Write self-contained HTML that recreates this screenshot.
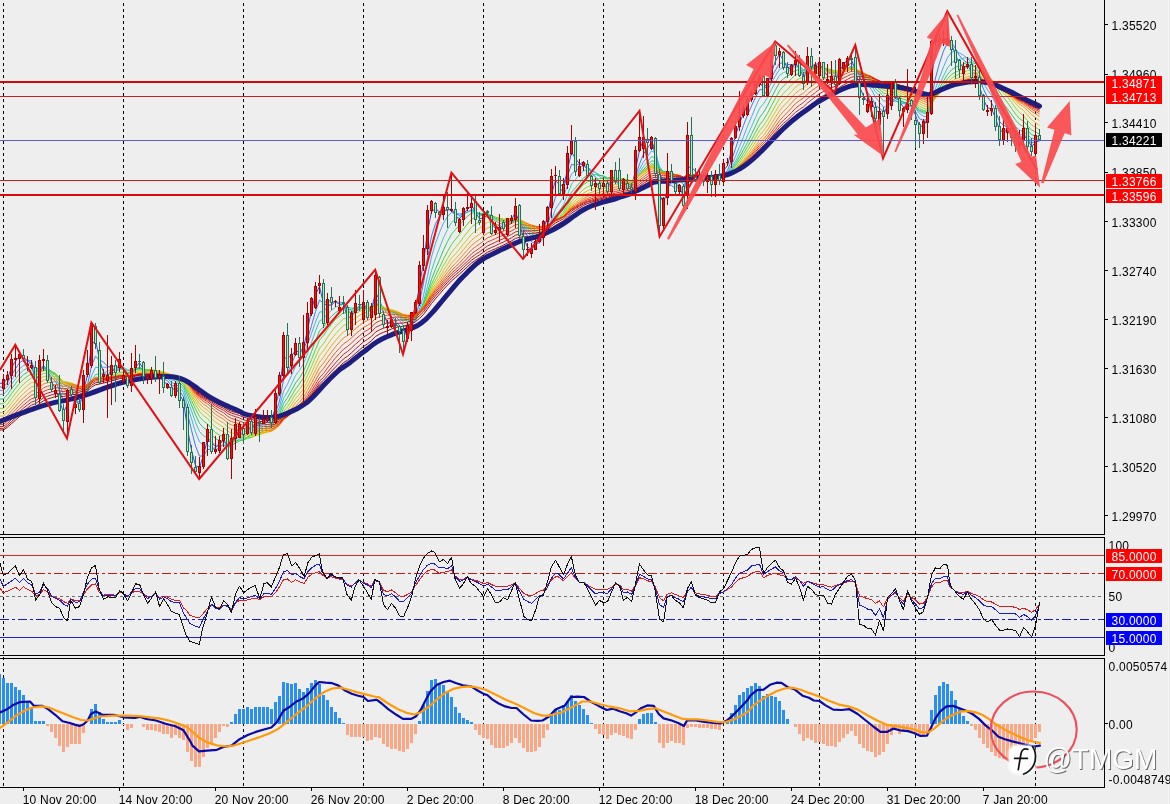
<!DOCTYPE html>
<html><head><meta charset="utf-8"><title>chart</title>
<style>html,body{margin:0;padding:0;background:#eeeeee;}body{width:1170px;height:804px;overflow:hidden;font-family:"Liberation Sans",sans-serif;}svg{display:block;will-change:transform;opacity:0.999;}text{font-family:"Liberation Sans",sans-serif;font-size:12px;letter-spacing:0.25px;}</style>
</head><body>
<svg width="1170" height="804" viewBox="0 0 1170 804">
<rect x="0" y="0" width="1170" height="804" fill="#eeeeee"/>
<defs><clipPath id="cm"><rect x="0" y="0" width="1104" height="534"/></clipPath><clipPath id="cr"><rect x="0" y="538" width="1104" height="117"/></clipPath><clipPath id="cd"><rect x="0" y="659" width="1104" height="128"/></clipPath></defs>
<path d="M3.5 3V534M3.5 537V655M3.5 657V787M123.5 3V534M123.5 537V655M123.5 657V787M243.5 3V534M243.5 537V655M243.5 657V787M363.5 3V534M363.5 537V655M363.5 657V787M483.5 3V534M483.5 537V655M483.5 657V787M603.5 3V534M603.5 537V655M603.5 657V787M723.5 3V534M723.5 537V655M723.5 657V787M819.5 3V534M819.5 537V655M819.5 657V787M915.5 3V534M915.5 537V655M915.5 657V787M1035.5 3V534M1035.5 537V655M1035.5 657V787" stroke="#000" stroke-width="1" stroke-dasharray="3 3" fill="none" shape-rendering="crispEdges"/>
<g clip-path="url(#cm)" fill="none" stroke-width="0.95" stroke-linejoin="round">
<polyline points="0,383.3 3.5,383.3 7.5,378.3 11.5,367.7 15.5,361.2 19.5,356.2 23.5,357.2 27.5,360.7 31.5,363.7 35.5,381.3 39.5,373.5 43.5,365.8 47.5,370.2 51.5,381.8 55.5,388.5 59.5,400.5 63.5,412.5 67.5,403.8 71.5,397.7 75.5,398.7 79.5,405.5 83.5,391.5 87.5,374.8 91.5,345 95.5,340.2 99.5,360 103.5,372 107.5,376 111.5,369.8 115.5,370.7 119.5,364.7 123.5,369.3 127.5,377.8 131.5,375.2 135.5,367.5 139.5,362.7 143.5,369.3 147.5,374 151.5,373.2 155.5,375 159.5,375.2 163.5,382 167.5,383.8 171.5,390.7 175.5,387.5 179.5,394.2 183.5,401.5 187.5,428.8 191.5,450.2 195.5,465.7 199.5,467.5 203.5,455 207.5,439.5 211.5,442.7 215.5,446.7 219.5,445 223.5,438.5 227.5,447.5 231.5,444.3 235.5,434.5 239.5,426.3 243.5,429.5 247.5,426.7 251.5,429.7 255.5,422.7 259.5,422.8 263.5,420.2 267.5,419.3 271.5,420.7 275.5,407.2 279.5,389 283.5,358 287.5,358.2 291.5,355.5 295.5,350.8 299.5,352.3 303.5,347.5 307.5,330.2 311.5,310.3 315.5,294.5 319.5,286.5 323.5,304 327.5,304.7 331.5,305.2 335.5,301.3 339.5,304.3 343.5,304.5 347.5,317.5 351.5,317.2 355.5,310.8 359.5,305.7 363.5,303.2 367.5,310.5 371.5,309.3 375.5,292.5 379.5,299.7 383.5,313 387.5,323.7 391.5,322.3 395.5,323.7 399.5,327.8 403.5,336 407.5,331.8 411.5,321.3 415.5,309.2 419.5,285.2 423.5,262.7 427.5,231.8 431.5,211.8 435.5,208.5 439.5,212 443.5,210.7 447.5,209.8 451.5,209 455.5,216.2 459.5,218.7 463.5,214.2 467.5,209.3 471.5,205.2 475.5,212.2 479.5,218.7 483.5,218 487.5,215 491.5,223.7 495.5,228.5 499.5,229.2 503.5,228.5 507.5,223.2 511.5,219.8 515.5,212 519.5,223 523.5,238 527.5,247.2 531.5,249.2 535.5,245 539.5,240.3 543.5,229.7 547.5,216.7 551.5,193.8 555.5,180.7 559.5,184.7 563.5,185.8 567.5,170.2 571.5,152.2 575.5,158.5 579.5,163.8 583.5,165 587.5,169.7 591.5,178.7 595.5,182.8 599.5,186.5 603.5,185 607.5,188.5 611.5,179.5 615.5,179.7 619.5,183.5 623.5,182.8 627.5,185.7 631.5,187.8 635.5,169.8 639.5,150.2 643.5,139.2 647.5,140 651.5,139 655.5,156.5 659.5,193.8 663.5,203.3 667.5,189.2 671.5,180.5 675.5,184.8 679.5,186.7 683.5,196.7 687.5,167 691.5,167.3 695.5,171.2 699.5,177.8 703.5,180 707.5,178.2 711.5,181.5 715.5,178 719.5,179.3 723.5,170.8 727.5,165.5 731.5,150.2 735.5,136 739.5,123 743.5,113.7 747.5,104.8 751.5,97.5 755.5,89.5 759.5,82 763.5,87.7 767.5,83.8 771.5,72 775.5,61 779.5,54.2 783.5,60.3 787.5,68.2 791.5,68.5 795.5,64 799.5,68.8 803.5,77.3 807.5,68.7 811.5,66.2 815.5,64.2 819.5,63.8 823.5,70.5 827.5,75.8 831.5,77.3 835.5,81 839.5,70.5 843.5,64.8 847.5,59.5 851.5,59.7 855.5,70.7 859.5,86.3 863.5,96.3 867.5,101.7 871.5,101.8 875.5,110.5 879.5,112 883.5,115.3 887.5,105 891.5,92.2 895.5,92.2 899.5,101.8 903.5,107.3 907.5,106.5 911.5,105.7 915.5,115.2 919.5,126.3 923.5,126 927.5,118.7 931.5,78 935.5,51.3 939.5,41 943.5,40.2 947.5,39.2 951.5,44.2 955.5,54.5 959.5,64.3 963.5,66.8 967.5,65.7 971.5,71.3 975.5,74.7 979.5,86.3 983.5,99.7 987.5,107.7 991.5,109 995.5,117.8 999.5,130.3 1003.5,131.8 1007.5,130 1011.5,133 1015.5,140.3 1019.5,141.7 1023.5,135 1027.5,139.5 1031.5,146.3 1035.5,142.7 1039.5,140.3" stroke="#2546d8"/>
<polyline points="0,387 3.5,387 7.5,382.8 11.5,375 15.5,368.7 19.5,362.8 23.5,360.1 27.5,360.1 31.5,361.1 35.5,372 39.5,370.2 43.5,368 47.5,371.9 51.5,377.2 55.5,381.4 59.5,390.3 63.5,401.5 67.5,401 71.5,400.3 75.5,401.6 79.5,404 83.5,395.3 87.5,385 91.5,366 95.5,356.2 99.5,360 103.5,362.1 107.5,366.3 111.5,367.7 115.5,371.2 119.5,368.3 123.5,369.3 127.5,373.9 131.5,372.7 135.5,369.8 139.5,367.4 143.5,369.9 147.5,371.1 151.5,370.7 155.5,373.2 159.5,374.5 163.5,378.8 167.5,380.7 171.5,385.7 175.5,386 179.5,390.9 183.5,396.6 187.5,413.4 191.5,430.2 195.5,445.9 199.5,456.2 203.5,455.8 207.5,449.6 211.5,449 215.5,447.6 219.5,444.3 223.5,440.8 227.5,445.9 231.5,444.2 235.5,438.1 239.5,433.4 243.5,433 247.5,429 251.5,428.9 255.5,425 259.5,424.6 263.5,422.7 267.5,420.7 271.5,421 275.5,412.7 279.5,401.1 283.5,380 287.5,372.7 291.5,363.7 295.5,354.7 299.5,353.7 303.5,349.9 307.5,339.3 311.5,325.5 315.5,311.6 319.5,300 323.5,303.1 327.5,300.6 331.5,301.3 335.5,302 339.5,304.1 343.5,304.5 347.5,311.2 351.5,312.9 355.5,311 359.5,309.6 363.5,307.2 367.5,309.7 371.5,308 375.5,298.6 379.5,302.2 383.5,308.4 387.5,313.9 391.5,316.3 395.5,320.6 399.5,325.7 403.5,331 407.5,330 411.5,325.3 415.5,318.5 419.5,301.9 423.5,283.3 427.5,257.9 431.5,236.1 435.5,223.8 439.5,216.7 443.5,211.4 447.5,209.8 451.5,209.7 455.5,213.7 459.5,215.4 463.5,213.8 467.5,212.1 471.5,209.4 475.5,211.8 479.5,214.6 483.5,214.8 487.5,214.9 491.5,220.8 495.5,224.3 499.5,225.6 503.5,227.2 507.5,225.3 511.5,223.3 515.5,217.6 519.5,221.8 523.5,229.7 527.5,236.2 531.5,241.8 535.5,243.6 539.5,243.1 543.5,236.7 547.5,226.9 551.5,210.3 555.5,197 559.5,192.5 563.5,187.5 567.5,176.1 571.5,164.5 575.5,165 579.5,163.9 583.5,162 587.5,165.8 591.5,172.7 595.5,177.2 599.5,181.5 603.5,183.2 607.5,186.7 611.5,182.4 615.5,181.9 619.5,183.6 623.5,182.1 627.5,184 631.5,185.8 635.5,176.3 639.5,164.1 643.5,154 647.5,148.1 651.5,142.2 655.5,149.3 659.5,172.1 663.5,183.2 667.5,183.8 671.5,185.5 675.5,188.6 679.5,187.1 683.5,191 687.5,175.7 691.5,175 695.5,175.2 699.5,174.7 703.5,176.2 707.5,176.2 711.5,180.2 715.5,178.7 719.5,179.3 723.5,174.7 727.5,170.4 731.5,160.3 735.5,148.5 739.5,136.7 743.5,125.4 747.5,115 751.5,105.9 755.5,97.5 759.5,89.7 763.5,89.6 767.5,85.4 771.5,77.4 775.5,70.2 779.5,63.3 783.5,62.8 787.5,64.5 791.5,64.6 795.5,64 799.5,67.9 803.5,73.1 807.5,68.8 811.5,68.1 815.5,67.3 819.5,65.6 823.5,68.3 827.5,71.3 831.5,73.6 835.5,77.6 839.5,73.2 843.5,70 847.5,65.7 851.5,62.9 855.5,67.3 859.5,76 863.5,84.6 867.5,92.4 871.5,97.3 875.5,105.4 879.5,108.3 883.5,111.6 887.5,107.7 891.5,100.3 895.5,98.6 899.5,100.7 903.5,102.3 907.5,102.9 911.5,104.7 915.5,111.4 919.5,118.7 923.5,120.5 927.5,119.2 931.5,97.5 935.5,78 939.5,63 943.5,50.9 947.5,43 951.5,42.5 955.5,48.6 959.5,55.7 963.5,60.1 967.5,62.9 971.5,68.5 975.5,71.6 979.5,79.1 983.5,89.1 987.5,97.2 991.5,102.7 995.5,111.4 999.5,121.6 1003.5,125.2 1007.5,127.4 1011.5,131.5 1015.5,136.6 1019.5,138.2 1023.5,135.7 1027.5,139.2 1031.5,143.3 1035.5,141.3 1039.5,141" stroke="#2f74e6"/>
<polyline points="0,390.4 3.5,390.4 7.5,386.4 11.5,379.9 15.5,374.4 19.5,368.9 23.5,365.4 27.5,363.7 31.5,362.9 35.5,369.2 39.5,367.6 43.5,366.2 47.5,369.6 51.5,374.3 55.5,378.3 59.5,385.7 63.5,394 67.5,394.8 71.5,396 75.5,399.1 79.5,402.4 83.5,397.6 87.5,390.5 91.5,376 95.5,367.2 99.5,367.7 103.5,367.2 107.5,367.3 111.5,365.8 115.5,366.8 119.5,365.8 123.5,368.4 127.5,372.9 131.5,372.4 135.5,370 139.5,368.3 143.5,369.8 147.5,371.1 151.5,371 155.5,372.5 159.5,373 163.5,376 167.5,378.3 171.5,382.6 175.5,383.5 179.5,387.5 183.5,392.4 187.5,405.4 191.5,418.8 195.5,432.1 199.5,442 203.5,445.4 207.5,445 211.5,448.3 215.5,449.6 219.5,448 223.5,444.4 227.5,446.3 231.5,444 235.5,439.8 239.5,436.4 243.5,435.6 247.5,432.2 251.5,431.5 255.5,427.9 259.5,426.3 263.5,424 267.5,422.4 271.5,422.2 275.5,416.1 279.5,407 283.5,391.3 287.5,384.1 291.5,375.5 295.5,366.1 299.5,361.6 303.5,355.1 307.5,344.6 311.5,333.5 315.5,322.1 319.5,312.1 323.5,311.5 327.5,306.8 331.5,304.2 335.5,302 339.5,302.3 343.5,302.8 347.5,308.7 351.5,310.5 355.5,309.7 359.5,308.8 363.5,307.8 367.5,309.8 371.5,309.2 375.5,302.2 379.5,303.8 383.5,307.3 387.5,311.2 391.5,313.3 395.5,316.5 399.5,320.5 403.5,325.7 407.5,327.1 411.5,325.4 415.5,320.9 419.5,309.2 423.5,295.5 427.5,275.9 431.5,257 435.5,243.2 439.5,232.5 443.5,223 447.5,216.7 451.5,212.4 455.5,213.1 459.5,213.9 463.5,213.1 467.5,212.2 471.5,210.3 475.5,212 479.5,214.3 483.5,214.4 487.5,214.2 491.5,218.1 495.5,221 499.5,223 503.5,225 507.5,224.3 511.5,223.3 515.5,219.9 519.5,222.9 523.5,228.2 527.5,232.5 531.5,236.4 535.5,238.4 539.5,239.2 543.5,236.6 547.5,231.2 551.5,219.8 555.5,208.9 559.5,203.2 563.5,196.7 567.5,185.4 571.5,173.9 575.5,170.8 579.5,167.9 583.5,165.4 587.5,166.8 591.5,170.2 595.5,172.7 599.5,176.6 603.5,179.3 607.5,183 611.5,181.3 615.5,182 619.5,183.7 623.5,182.8 627.5,183.9 631.5,185.1 635.5,178.2 639.5,169.5 643.5,161.8 647.5,156.6 651.5,150.7 655.5,153.3 659.5,166.6 663.5,173.2 667.5,174.2 671.5,177.7 675.5,182.7 679.5,185 683.5,190.5 687.5,180.4 691.5,178.6 695.5,177.4 699.5,176.8 703.5,177.5 707.5,176.9 711.5,178.1 715.5,177.3 719.5,178.2 723.5,176 727.5,172.9 731.5,165.4 735.5,156.4 739.5,146.6 743.5,136.6 747.5,126.4 751.5,116.8 755.5,107.2 759.5,98.4 763.5,95.4 767.5,90.1 771.5,82.6 775.5,75.8 779.5,69.3 783.5,67.5 787.5,67.6 791.5,66.3 795.5,64.4 799.5,66.1 803.5,69.8 807.5,67.8 811.5,68.1 815.5,67.7 819.5,66.5 823.5,68.5 827.5,70.7 831.5,72 835.5,74.7 839.5,72 843.5,70.5 847.5,68 851.5,66.1 855.5,68.8 859.5,74.2 863.5,79.5 867.5,85.2 871.5,89.7 875.5,97.4 879.5,102.2 883.5,107.1 887.5,106.2 891.5,102 895.5,101 899.5,102.6 903.5,103.4 907.5,103.3 911.5,103.5 915.5,107.8 919.5,113.5 923.5,116.3 927.5,116.8 931.5,102.3 935.5,88.5 939.5,77.4 943.5,66.9 947.5,57.6 951.5,52.2 955.5,51.2 959.5,53 963.5,55.3 967.5,58.1 971.5,63.2 975.5,67.1 979.5,74.2 983.5,82.8 987.5,89.9 991.5,95.2 995.5,103.3 999.5,112.8 1003.5,118.2 1007.5,122.1 1011.5,127 1015.5,132.1 1019.5,134.9 1023.5,134.6 1027.5,137.7 1031.5,140.9 1035.5,140.2 1039.5,140.6" stroke="#3fa4f2"/>
<polyline points="0,394.4 3.5,394.4 7.5,390.2 11.5,384.3 15.5,379 19.5,373.9 23.5,370.2 27.5,368 31.5,366.4 35.5,370.2 39.5,368.2 43.5,366.4 47.5,368.4 51.5,371.8 55.5,375.1 59.5,381.5 63.5,388.7 67.5,390.3 71.5,392.3 75.5,395.2 79.5,398.4 83.5,395.8 87.5,391.5 91.5,381.1 95.5,374.4 99.5,374.1 103.5,372.6 107.5,371.4 111.5,369.1 115.5,368.8 119.5,366.5 123.5,367.2 127.5,369.9 131.5,370.2 135.5,369.5 139.5,368.9 143.5,370.2 147.5,370.9 151.5,370.8 155.5,371.9 159.5,372.5 163.5,375.1 167.5,376.8 171.5,380 175.5,380.9 179.5,384.7 183.5,389.1 187.5,399.7 191.5,410.9 195.5,422.3 199.5,431.5 203.5,435.9 207.5,437.4 211.5,441.7 215.5,444.8 219.5,445.7 223.5,445 227.5,447.6 231.5,446.2 235.5,442.2 239.5,438.7 243.5,437.3 247.5,434.3 251.5,433.7 255.5,430.5 259.5,428.7 263.5,426.6 267.5,424.6 271.5,423.7 275.5,418.3 279.5,411 283.5,398.4 287.5,392 291.5,384.1 295.5,375.6 299.5,370.4 303.5,363.7 307.5,353.5 311.5,342.4 315.5,331 319.5,320.9 323.5,318.8 327.5,313.8 331.5,310.4 335.5,307.1 339.5,305.5 343.5,304.1 347.5,307.2 351.5,308.1 355.5,307.8 359.5,307.9 363.5,307.4 367.5,309.3 371.5,308.8 375.5,303.8 379.5,305.1 383.5,307.9 387.5,310.6 391.5,312 395.5,314.2 399.5,317.5 403.5,322 407.5,323.4 411.5,322.6 415.5,320.1 419.5,312.1 423.5,302 427.5,286.4 431.5,270.7 435.5,258.5 439.5,248.1 443.5,237.7 447.5,229.4 451.5,222.4 455.5,219.3 459.5,216.9 463.5,214 467.5,212.2 471.5,210.5 475.5,211.9 479.5,213.8 483.5,213.9 487.5,213.9 491.5,217.1 495.5,219.4 499.5,220.9 503.5,222.6 507.5,222.4 511.5,222.3 515.5,220.2 519.5,222.7 523.5,227 527.5,230.7 531.5,234.1 535.5,235.8 539.5,236.5 543.5,234.7 547.5,230.9 551.5,222.6 555.5,214.8 559.5,210.5 563.5,204.9 567.5,194.9 571.5,184.1 575.5,179.4 579.5,174.8 583.5,170.7 587.5,169.7 591.5,171.1 595.5,172.4 599.5,175 603.5,176.4 607.5,179.2 611.5,178.6 615.5,180 619.5,182.1 623.5,182.1 627.5,183.5 631.5,184.8 635.5,179.6 639.5,172.7 643.5,166.4 647.5,161.7 651.5,156.6 655.5,157.8 659.5,167.2 663.5,171.6 667.5,171.6 671.5,173.4 675.5,176.9 679.5,179.3 683.5,184.9 687.5,178.9 691.5,179.3 695.5,179.7 699.5,179.3 703.5,179.1 707.5,177.8 711.5,178.6 715.5,177.8 719.5,178.1 723.5,175.7 727.5,173.4 731.5,167.8 735.5,161.1 739.5,153.1 743.5,144.6 747.5,135.6 751.5,126.7 755.5,117.6 759.5,108.5 763.5,103.8 767.5,97.3 771.5,89.3 775.5,82.1 779.5,75.4 783.5,72.5 787.5,71.3 791.5,69.2 795.5,66.8 799.5,67.5 803.5,69.6 807.5,67.3 811.5,67.1 815.5,66.9 819.5,66.4 823.5,68.4 827.5,70.2 831.5,71.2 835.5,73.5 839.5,71.6 843.5,70.3 847.5,68.3 851.5,66.9 855.5,69.2 859.5,73.6 863.5,77.9 867.5,82.3 871.5,85.8 875.5,91.8 879.5,96 883.5,100.7 887.5,101.5 891.5,100 895.5,100.6 899.5,102.7 903.5,103.7 907.5,103.8 911.5,104 915.5,107.2 919.5,111.4 923.5,113.2 927.5,113.6 931.5,103.1 935.5,93.1 939.5,84.6 943.5,76 947.5,67.9 951.5,62.7 955.5,60.2 959.5,59.3 963.5,58.2 967.5,57.6 971.5,60.1 975.5,62.8 979.5,69 983.5,76.7 987.5,83.4 991.5,89 995.5,96.7 999.5,105.2 1003.5,110.6 1007.5,115.3 1011.5,120.7 1015.5,126.5 1019.5,130.3 1023.5,131.4 1027.5,134.8 1031.5,138.3 1035.5,138.7 1039.5,139.5" stroke="#2fc4c0"/>
<polyline points="0,399 3.5,399 7.5,394.6 11.5,388.8 15.5,383.6 19.5,378.6 23.5,374.7 27.5,372.1 31.5,370 35.5,372.4 39.5,370.2 43.5,368.1 47.5,369.1 51.5,371.4 55.5,373.7 59.5,378.6 63.5,384.5 67.5,386.2 71.5,388.4 75.5,391.5 79.5,394.9 83.5,393.5 87.5,390.4 91.5,382.3 95.5,377.2 99.5,377.5 103.5,376.4 107.5,375.3 111.5,373.1 115.5,372 119.5,369.3 123.5,369.1 127.5,370.6 131.5,369.9 135.5,368.6 139.5,367.7 143.5,369.1 147.5,370.4 151.5,370.8 155.5,371.8 159.5,372.1 163.5,374.2 167.5,375.6 171.5,378.5 175.5,379.5 179.5,382.6 183.5,386.3 187.5,395.2 191.5,404.9 195.5,414.9 199.5,423.3 203.5,427.8 207.5,430.1 211.5,434.9 215.5,438.6 219.5,440.6 223.5,441.4 227.5,444.8 231.5,445 235.5,443.1 239.5,440.9 243.5,439.8 247.5,436.9 251.5,435.6 255.5,432.4 259.5,430.8 263.5,428.8 267.5,426.9 271.5,425.7 275.5,421 279.5,414.5 283.5,403.6 287.5,397.6 291.5,390.6 295.5,383 299.5,377.9 303.5,371.4 307.5,361.9 311.5,351.6 315.5,340.8 319.5,330.8 323.5,327.1 327.5,321 331.5,316.4 335.5,312.6 339.5,310.3 343.5,308.2 347.5,309.6 351.5,309.2 355.5,307.8 359.5,307.1 363.5,306.4 367.5,308.1 371.5,308.2 375.5,304.4 379.5,305.5 383.5,307.8 387.5,310.1 391.5,311.4 395.5,313.4 399.5,316 403.5,319.6 407.5,320.8 411.5,320.3 415.5,318.7 419.5,312.4 423.5,304.3 427.5,291.9 431.5,279.3 435.5,269.1 439.5,259.6 443.5,250 447.5,241.7 451.5,234.3 455.5,229.5 459.5,225.1 463.5,220.3 467.5,216.4 471.5,213.1 475.5,212.7 479.5,213.5 483.5,213.4 487.5,213.5 491.5,216.2 495.5,218.2 499.5,219.6 503.5,221.1 507.5,221.2 511.5,221.1 515.5,219.5 519.5,221.7 523.5,225.6 527.5,229 531.5,232 535.5,233.7 539.5,234.7 543.5,233.5 547.5,230.6 551.5,223.8 555.5,217.4 559.5,213.8 563.5,209.3 567.5,201.2 571.5,192.2 575.5,187.7 579.5,182.8 583.5,177.9 587.5,175.5 591.5,175 595.5,174.6 599.5,175.4 603.5,175.9 607.5,177.9 611.5,177.2 615.5,178.1 619.5,179.8 623.5,180.2 627.5,182 631.5,183.6 635.5,179.8 639.5,174.5 643.5,169.5 647.5,165.4 651.5,160.9 655.5,161.4 659.5,168.5 663.5,171.7 667.5,171.5 671.5,172.7 675.5,175.2 679.5,176.7 683.5,180.9 687.5,175.9 691.5,176.6 695.5,177.9 699.5,178.5 703.5,179.4 707.5,179.2 711.5,179.9 715.5,178.8 719.5,178.5 723.5,176.4 727.5,174.5 731.5,169.6 735.5,163.6 739.5,156.9 743.5,149.7 747.5,142.3 751.5,134.4 755.5,126 759.5,117.6 763.5,112.4 767.5,105.7 771.5,97.5 775.5,89.9 779.5,82.6 783.5,78.6 787.5,76.1 791.5,73.2 795.5,70.2 799.5,69.9 803.5,70.8 807.5,68.5 811.5,67.9 815.5,67.2 819.5,66.4 823.5,67.6 827.5,69.2 831.5,70.3 835.5,72.5 839.5,71.1 843.5,70.1 847.5,68.6 851.5,67.5 855.5,69.2 859.5,72.7 863.5,76.3 867.5,80.2 871.5,83.4 875.5,88.5 879.5,92.2 883.5,96.2 887.5,97.2 891.5,96.4 895.5,97.5 899.5,100.2 903.5,102 907.5,103 911.5,103.8 915.5,106.7 919.5,110.3 923.5,111.9 927.5,112.3 931.5,103.7 935.5,95.3 939.5,88.1 943.5,81 947.5,74.5 951.5,69.9 955.5,67.2 959.5,65.7 963.5,64 967.5,62.4 971.5,62.9 975.5,63.4 979.5,66.8 983.5,72.2 987.5,77.8 991.5,83.1 995.5,90.2 999.5,98.3 1003.5,104 1007.5,108.9 1011.5,114.4 1015.5,120.1 1019.5,124.4 1023.5,126.6 1027.5,130.7 1031.5,134.7 1035.5,136 1039.5,137.3" stroke="#22c267"/>
<polyline points="0,403.8 3.5,403.8 7.5,399.3 11.5,393.6 15.5,388.4 19.5,383.4 23.5,379.3 27.5,376.3 31.5,373.9 35.5,375.2 39.5,372.7 43.5,370.5 47.5,370.8 51.5,372.3 55.5,373.8 59.5,377.6 63.5,382.3 67.5,383.6 71.5,385.4 75.5,388.1 79.5,391.3 83.5,390.6 87.5,388.6 91.5,382.3 95.5,378.4 99.5,378.7 103.5,377.9 107.5,377.2 111.5,375.6 115.5,374.8 119.5,372.4 123.5,371.9 127.5,372.6 131.5,371.4 135.5,369.7 139.5,368.5 143.5,369 147.5,369.6 151.5,369.6 155.5,370.8 159.5,371.6 163.5,373.7 167.5,375 171.5,377.3 175.5,378.2 179.5,380.9 183.5,384.3 187.5,391.9 191.5,400.3 195.5,409.1 199.5,416.6 203.5,421.1 207.5,423.9 211.5,428.6 215.5,432.6 219.5,435.1 223.5,436.6 227.5,440.5 231.5,441.6 235.5,440.8 239.5,439.9 243.5,439.9 247.5,438.3 251.5,437.6 255.5,435 259.5,433.1 263.5,430.9 267.5,428.8 271.5,427.6 275.5,423.4 279.5,417.7 283.5,408.1 287.5,402.6 291.5,396.1 295.5,389 299.5,383.9 303.5,377.8 307.5,369.2 311.5,359.7 315.5,349.6 319.5,340.1 323.5,335.7 327.5,329.4 331.5,324.1 335.5,319.3 339.5,315.9 343.5,312.7 347.5,313.1 351.5,312 355.5,310.2 359.5,308.8 363.5,307.4 367.5,308.1 371.5,307.6 375.5,304.2 379.5,305.2 383.5,307.4 387.5,309.6 391.5,310.8 395.5,312.5 399.5,314.8 403.5,318 407.5,319.2 411.5,318.9 415.5,317.5 419.5,312.2 423.5,305.5 427.5,295.2 431.5,284.5 435.5,275.6 439.5,267.5 443.5,259.1 447.5,251.6 451.5,244.5 455.5,239.3 459.5,234.4 463.5,229 467.5,224 471.5,219.4 475.5,217.3 479.5,216.2 483.5,214.8 487.5,213.8 491.5,215.6 495.5,217.2 499.5,218.5 503.5,219.9 507.5,220 511.5,220.1 515.5,218.9 519.5,220.9 523.5,224.2 527.5,227.2 531.5,229.9 535.5,231.7 539.5,232.9 543.5,232.2 547.5,229.9 551.5,224.5 555.5,219.2 559.5,216.1 563.5,212.1 567.5,205.1 571.5,197.3 575.5,193.3 579.5,189 583.5,184.5 587.5,181.9 591.5,180.5 595.5,179.1 599.5,178.7 603.5,178 607.5,178.6 611.5,177.2 615.5,177.5 619.5,178.7 623.5,179 627.5,180.3 631.5,181.7 635.5,178.8 639.5,174.8 643.5,170.9 647.5,167.6 651.5,163.9 655.5,164.3 659.5,170 663.5,172.5 667.5,172.1 671.5,172.8 675.5,174.7 679.5,175.9 683.5,179.2 687.5,174.9 691.5,175.2 695.5,176 699.5,176.5 703.5,177.5 707.5,178 711.5,179.3 715.5,179.1 719.5,179.4 723.5,177.7 727.5,175.7 731.5,171.2 735.5,165.9 739.5,160.1 743.5,153.7 747.5,146.8 751.5,139.8 755.5,132.4 759.5,125 763.5,119.9 767.5,113.4 771.5,105.6 775.5,98.1 779.5,90.7 783.5,85.9 787.5,82.4 791.5,78.6 795.5,74.8 799.5,73.4 803.5,73.4 807.5,70.6 811.5,69.5 815.5,68.4 819.5,67.3 823.5,68.1 827.5,69 831.5,69.7 835.5,71.4 839.5,70.3 843.5,69.7 847.5,68.7 851.5,67.8 855.5,69.2 859.5,72.2 863.5,75.3 867.5,78.6 871.5,81.4 875.5,85.8 879.5,89.3 883.5,93 887.5,94.2 891.5,93.7 895.5,94.9 899.5,97.3 903.5,99.2 907.5,100.5 911.5,101.9 915.5,105 919.5,108.7 923.5,110.6 927.5,111.2 931.5,104.1 935.5,97.1 939.5,90.9 943.5,84.7 947.5,78.8 951.5,74.5 955.5,72 959.5,70.6 963.5,68.8 967.5,67 971.5,66.8 975.5,66.6 979.5,68.8 983.5,72.4 987.5,76 991.5,79.5 995.5,85.1 999.5,92.1 1003.5,97.6 1007.5,102.6 1011.5,108.2 1015.5,114 1019.5,118.6 1023.5,121.3 1027.5,125.6 1031.5,129.9 1035.5,131.9 1039.5,134.1" stroke="#44d222"/>
<polyline points="0,408.4 3.5,408.4 7.5,404 11.5,398.5 15.5,393.4 19.5,388.3 23.5,384.1 27.5,380.8 31.5,378 35.5,378.5 39.5,375.8 43.5,373.3 47.5,373.1 51.5,373.9 55.5,374.8 59.5,377.7 63.5,381.5 67.5,382.4 71.5,383.8 75.5,386 79.5,388.7 83.5,388.1 87.5,386.5 91.5,381.3 95.5,378.3 99.5,378.8 103.5,378.5 107.5,378.1 111.5,376.7 115.5,376.1 119.5,374.2 123.5,373.9 127.5,374.5 131.5,373.4 135.5,371.7 139.5,370.2 143.5,370.2 147.5,370.3 151.5,370 155.5,370.5 159.5,370.8 163.5,372.5 167.5,373.8 171.5,376.2 175.5,377.3 179.5,379.8 183.5,382.6 187.5,389.4 191.5,396.8 195.5,404.6 199.5,411.5 203.5,415.7 207.5,418.4 211.5,423 215.5,427 219.5,429.8 223.5,431.8 227.5,435.7 231.5,437.3 235.5,437.5 239.5,437.3 243.5,438 247.5,437.2 251.5,437.3 255.5,435.7 259.5,434.6 263.5,433 267.5,431.1 271.5,429.7 275.5,425.7 279.5,420.3 283.5,411.8 287.5,406.8 291.5,400.8 295.5,394.2 299.5,389.4 303.5,383.5 307.5,375.4 311.5,366.5 315.5,357.2 319.5,348.3 323.5,343.7 327.5,337.3 331.5,331.8 335.5,326.7 339.5,322.7 343.5,318.9 347.5,317.9 351.5,315.8 355.5,313.3 359.5,311.5 363.5,309.7 367.5,309.7 371.5,308.8 375.5,305.2 379.5,305.6 383.5,307 387.5,308.8 391.5,309.9 395.5,311.6 399.5,313.8 403.5,316.7 407.5,317.8 411.5,317.7 415.5,316.6 419.5,312.2 423.5,306.4 427.5,297.4 431.5,288 435.5,280.2 439.5,273 443.5,265.5 447.5,258.7 451.5,252.2 455.5,247.5 459.5,242.7 463.5,237.2 467.5,232 471.5,227 475.5,224.1 479.5,221.9 483.5,219.3 487.5,217.1 491.5,217.4 495.5,217.7 499.5,218.1 503.5,219 507.5,219.1 511.5,219.3 515.5,218.3 519.5,220.1 523.5,223.1 527.5,225.8 531.5,228.3 535.5,229.9 539.5,231 543.5,230.7 547.5,229 551.5,224.5 555.5,220.1 559.5,217.5 563.5,214.1 567.5,208 571.5,201.2 575.5,197.4 579.5,193.4 583.5,189.3 587.5,186.8 591.5,185.4 595.5,183.8 599.5,183 603.5,181.7 607.5,181.4 611.5,179.4 615.5,178.8 619.5,179.1 623.5,178.8 627.5,179.6 631.5,180.7 635.5,178.1 639.5,174.6 643.5,171.1 647.5,168.5 651.5,165.5 655.5,166 659.5,171 663.5,173.2 667.5,172.9 671.5,173.4 675.5,174.9 679.5,175.7 683.5,178.5 687.5,174.7 691.5,174.8 695.5,175.4 699.5,175.6 703.5,176.4 707.5,176.6 711.5,177.7 715.5,177.7 719.5,178.5 723.5,177.5 727.5,176.3 731.5,172.8 735.5,168.3 739.5,162.8 743.5,156.9 747.5,150.7 751.5,144.4 755.5,137.6 759.5,130.6 763.5,125.8 767.5,119.8 771.5,112.6 775.5,105.5 779.5,98.4 783.5,93.4 787.5,89.4 791.5,85.1 795.5,80.8 799.5,78.5 803.5,77.3 807.5,74 811.5,72.2 815.5,70.6 819.5,69.1 823.5,69.3 827.5,69.7 831.5,70 835.5,71.2 839.5,70.1 843.5,69.4 847.5,68.3 851.5,67.6 855.5,69 859.5,71.8 863.5,74.5 867.5,77.4 871.5,79.9 875.5,83.9 879.5,86.9 883.5,90.3 887.5,91.4 891.5,91.4 895.5,92.7 899.5,95 903.5,96.9 907.5,98.2 911.5,99.6 915.5,102.5 919.5,106.1 923.5,108.3 927.5,109.4 931.5,103.9 935.5,98.1 939.5,92.9 943.5,87.5 947.5,82.2 951.5,78.4 955.5,75.9 959.5,74.2 963.5,72.4 967.5,70.6 971.5,70.3 975.5,69.9 979.5,71.3 983.5,74 987.5,76.8 991.5,79.3 995.5,83.5 999.5,88.9 1003.5,93 1007.5,97.2 1011.5,102.3 1015.5,108 1019.5,112.7 1023.5,115.8 1027.5,120.4 1031.5,124.9 1035.5,127.3 1039.5,129.9" stroke="#93d312"/>
<polyline points="0,412.5 3.5,412.5 7.5,408.3 11.5,403.1 15.5,398.1 19.5,393.2 23.5,389 27.5,385.5 31.5,382.4 35.5,382.3 39.5,379.3 43.5,376.6 47.5,375.9 51.5,376.1 55.5,376.5 59.5,378.7 63.5,381.7 67.5,382.2 71.5,383.2 75.5,385 79.5,387.2 83.5,386.6 87.5,385.1 91.5,380.5 95.5,377.8 99.5,378.3 103.5,378.1 107.5,378 111.5,377.1 115.5,376.7 119.5,375.2 123.5,375 127.5,375.6 131.5,374.7 135.5,373.3 139.5,372 143.5,371.9 147.5,371.7 151.5,371.1 155.5,371.2 159.5,371.2 163.5,372.4 167.5,373.3 171.5,375.1 175.5,375.9 179.5,378.3 183.5,381.2 187.5,387.4 191.5,394 195.5,401 199.5,407.2 203.5,411.2 207.5,413.9 211.5,418.3 215.5,422.1 219.5,424.9 223.5,427.1 227.5,431 231.5,433 235.5,433.6 239.5,434 243.5,435.2 247.5,435 251.5,435.6 255.5,434.7 259.5,434.2 263.5,433.3 267.5,432.1 271.5,431.3 275.5,427.9 279.5,423.1 283.5,415.2 287.5,410.4 291.5,404.8 295.5,398.6 299.5,394.1 303.5,388.6 307.5,381 311.5,372.7 315.5,364 319.5,355.5 323.5,350.8 327.5,344.6 331.5,339.1 335.5,333.9 339.5,329.6 343.5,325.5 347.5,323.8 351.5,321.1 355.5,318 359.5,315.4 363.5,313 367.5,312.2 371.5,310.8 375.5,307.3 379.5,307.1 383.5,308 387.5,309 391.5,309.6 395.5,310.9 399.5,312.7 403.5,315.3 407.5,316.5 411.5,316.6 415.5,315.8 419.5,311.9 423.5,306.9 427.5,299.1 431.5,290.8 435.5,283.8 439.5,277.3 443.5,270.4 447.5,264.2 451.5,258.2 455.5,253.7 459.5,249.2 463.5,244 467.5,239.1 471.5,234.2 475.5,231 479.5,228.2 483.5,225.2 487.5,222.3 491.5,221.6 495.5,220.8 499.5,220.1 503.5,220 507.5,219.3 511.5,218.9 515.5,217.8 519.5,219.3 523.5,222 527.5,224.5 531.5,226.8 535.5,228.4 539.5,229.5 543.5,229.3 547.5,227.9 551.5,224.1 555.5,220.3 559.5,218.2 563.5,215.3 567.5,210 571.5,203.9 575.5,200.6 579.5,197 583.5,193.2 587.5,190.7 591.5,189.2 595.5,187.6 599.5,186.6 603.5,185.3 607.5,184.8 611.5,182.6 615.5,181.6 619.5,181.2 623.5,180.3 627.5,180.4 631.5,180.8 635.5,178.1 639.5,174.7 643.5,171.6 647.5,169.2 651.5,166.4 655.5,166.7 659.5,171.2 663.5,173.4 667.5,173.2 671.5,173.8 675.5,175.2 679.5,175.9 683.5,178.3 687.5,174.8 691.5,174.8 695.5,175.2 699.5,175.4 703.5,175.9 707.5,176.1 711.5,176.9 715.5,176.8 719.5,177.4 723.5,176.5 727.5,175.6 731.5,172.9 735.5,169.2 739.5,164.8 743.5,159.8 747.5,154.3 751.5,148.3 755.5,142 759.5,135.5 763.5,130.9 767.5,125.2 771.5,118.4 775.5,111.7 779.5,105 783.5,100.2 787.5,96.1 791.5,91.6 795.5,87.1 799.5,84.3 803.5,82.5 807.5,78.7 811.5,76.2 815.5,74 819.5,71.9 823.5,71.4 827.5,71.2 831.5,71 835.5,71.7 839.5,70.5 843.5,69.6 847.5,68.5 851.5,67.8 855.5,68.8 859.5,71.1 863.5,73.6 867.5,76.3 871.5,78.6 875.5,82.3 879.5,85 883.5,88.1 887.5,89.3 891.5,89.3 895.5,90.6 899.5,92.8 903.5,94.7 907.5,96.1 911.5,97.5 915.5,100.4 919.5,103.7 923.5,105.8 927.5,107 931.5,102.5 935.5,97.8 939.5,93.6 943.5,89.2 947.5,84.7 951.5,81.3 955.5,79 959.5,77.4 963.5,75.6 967.5,73.8 971.5,73.1 975.5,72.5 979.5,73.6 983.5,75.9 987.5,78.1 991.5,80.1 995.5,83.5 999.5,88 1003.5,91.3 1007.5,94.6 1011.5,98.7 1015.5,103.3 1019.5,107.4 1023.5,110.5 1027.5,115 1031.5,119.6 1035.5,122.4 1039.5,125.4" stroke="#d4c400"/>
<polyline points="0,416.1 3.5,416.1 7.5,412.1 11.5,407.2 15.5,402.5 19.5,397.7 23.5,393.6 27.5,390.1 31.5,386.9 35.5,386.3 39.5,383.2 43.5,380.2 47.5,379.1 51.5,378.9 55.5,378.7 59.5,380.3 63.5,382.6 67.5,382.8 71.5,383.4 75.5,384.7 79.5,386.5 83.5,385.8 87.5,384.4 91.5,380.1 95.5,377.6 99.5,378 103.5,377.8 107.5,377.6 111.5,376.8 115.5,376.6 119.5,375.5 123.5,375.4 127.5,376.1 131.5,375.4 135.5,374.2 139.5,373.1 143.5,373.1 147.5,373 151.5,372.5 155.5,372.5 159.5,372.3 163.5,373.1 167.5,373.6 171.5,375 175.5,375.5 179.5,377.4 183.5,379.8 187.5,385.2 191.5,391.4 195.5,398 199.5,403.8 203.5,407.6 207.5,410.1 211.5,414.2 215.5,417.9 219.5,420.7 223.5,422.9 227.5,426.8 231.5,428.8 235.5,429.7 239.5,430.5 243.5,431.9 247.5,432.3 251.5,433.2 255.5,432.8 259.5,432.8 263.5,432.3 267.5,431.7 271.5,431.3 275.5,428.7 279.5,424.7 283.5,418 287.5,413.7 291.5,408.6 295.5,402.7 299.5,398.3 303.5,393 307.5,385.9 311.5,378.2 315.5,370 319.5,362 323.5,357.3 327.5,351.2 331.5,345.8 335.5,340.5 339.5,336.2 343.5,331.9 347.5,329.8 351.5,326.7 355.5,323.3 359.5,320.3 363.5,317.4 367.5,316 371.5,314 375.5,310.1 379.5,309.4 383.5,309.7 387.5,310.3 391.5,310.5 395.5,311.2 399.5,312.5 403.5,314.6 407.5,315.4 411.5,315.4 415.5,314.8 419.5,311.6 423.5,307.2 427.5,300.2 431.5,292.8 435.5,286.5 439.5,280.6 443.5,274.4 447.5,268.7 451.5,263.1 455.5,258.8 459.5,254.5 463.5,249.6 467.5,244.9 471.5,240.2 475.5,237 479.5,234.3 483.5,231.1 487.5,228 491.5,226.7 495.5,225.3 499.5,224 503.5,223 507.5,221.6 511.5,220.4 515.5,218.7 519.5,219.5 523.5,221.4 527.5,223.5 531.5,225.5 535.5,227 539.5,228.2 543.5,228.1 547.5,226.9 551.5,223.6 555.5,220.3 559.5,218.4 563.5,215.9 567.5,211.2 571.5,205.9 575.5,203 579.5,199.7 583.5,196.2 587.5,193.9 591.5,192.4 595.5,190.8 599.5,189.7 603.5,188.3 607.5,187.7 611.5,185.6 615.5,184.4 619.5,183.9 623.5,182.8 627.5,182.4 631.5,182.2 635.5,179.4 639.5,175.8 643.5,172.6 647.5,170 651.5,167.3 655.5,167.5 659.5,171.4 663.5,173.2 667.5,173.1 671.5,173.7 675.5,175.1 679.5,175.9 683.5,178 687.5,175.1 691.5,175.1 695.5,175.4 699.5,175.4 703.5,175.8 707.5,175.8 711.5,176.5 715.5,176.4 719.5,176.9 723.5,176 727.5,175.1 731.5,172.6 735.5,169.3 739.5,165.4 743.5,161.2 747.5,156.5 751.5,151.4 755.5,145.8 759.5,139.9 763.5,135.4 767.5,129.9 771.5,123.5 775.5,117.2 779.5,110.8 783.5,106 787.5,102 791.5,97.6 795.5,93.2 799.5,90.1 803.5,87.9 807.5,83.9 811.5,81.1 815.5,78.4 819.5,75.8 823.5,74.6 827.5,73.8 831.5,73 835.5,73.2 839.5,71.6 843.5,70.5 847.5,69.3 851.5,68.3 855.5,69.1 859.5,71 863.5,73.1 867.5,75.4 871.5,77.4 875.5,80.7 879.5,83.4 883.5,86.3 887.5,87.5 891.5,87.6 895.5,88.9 899.5,91 903.5,92.7 907.5,94.1 911.5,95.5 915.5,98.3 919.5,101.5 923.5,103.5 927.5,104.8 931.5,100.9 935.5,96.9 939.5,93.3 943.5,89.6 947.5,85.9 951.5,83.1 955.5,81.2 959.5,79.9 963.5,78.2 967.5,76.5 971.5,75.8 975.5,75 979.5,75.8 983.5,77.5 987.5,79.3 991.5,81 995.5,84 999.5,87.9 1003.5,90.7 1007.5,93.5 1011.5,96.9 1015.5,100.9 1019.5,104.3 1023.5,106.7 1027.5,110.5 1031.5,114.7 1035.5,117.5 1039.5,120.6" stroke="#f2a200"/>
<polyline points="0,419.3 3.5,419.3 7.5,415.5 11.5,410.8 15.5,406.4 19.5,401.8 23.5,397.8 27.5,394.4 31.5,391.2 35.5,390.3 39.5,387.1 43.5,384.1 47.5,382.7 51.5,382 55.5,381.5 59.5,382.5 63.5,384.2 67.5,384.1 71.5,384.3 75.5,385.2 79.5,386.6 83.5,385.8 87.5,384.3 91.5,380.3 95.5,377.9 99.5,378.1 103.5,377.8 107.5,377.5 111.5,376.7 115.5,376.5 119.5,375.4 123.5,375.4 127.5,376.1 131.5,375.6 135.5,374.7 139.5,373.8 143.5,373.8 147.5,373.8 151.5,373.3 155.5,373.4 159.5,373.3 163.5,374 167.5,374.3 171.5,375.5 175.5,375.8 179.5,377.3 183.5,379.2 187.5,384 191.5,389.4 195.5,395.3 199.5,400.5 203.5,404.2 207.5,406.8 211.5,410.8 215.5,414.3 219.5,417 223.5,419.2 227.5,422.9 231.5,425 235.5,426.1 239.5,427.1 243.5,428.6 247.5,429.2 251.5,430.4 255.5,430.4 259.5,430.8 263.5,430.7 267.5,430.4 271.5,430.4 275.5,428.4 279.5,425.1 283.5,419.3 287.5,415.7 291.5,411.2 295.5,406.2 299.5,402.1 303.5,397.2 307.5,390.5 311.5,383.1 315.5,375.3 319.5,367.8 323.5,363.2 327.5,357.3 331.5,352 335.5,346.8 339.5,342.3 343.5,338 347.5,335.6 351.5,332.3 355.5,328.7 359.5,325.5 363.5,322.4 367.5,320.5 371.5,318.1 375.5,314 379.5,312.7 383.5,312.4 387.5,312.3 391.5,312 395.5,312.3 399.5,313.2 403.5,314.8 407.5,315.3 411.5,315 415.5,314.2 419.5,311.1 423.5,307.1 427.5,300.9 431.5,294.3 435.5,288.6 439.5,283.3 443.5,277.6 447.5,272.3 451.5,267.2 455.5,263.2 459.5,259 463.5,254.4 467.5,249.9 471.5,245.4 475.5,242.2 479.5,239.4 483.5,236.2 487.5,233.2 491.5,231.7 495.5,230.1 499.5,228.4 503.5,227 507.5,225.2 511.5,223.5 515.5,221.3 519.5,221.3 523.5,222.4 527.5,223.7 531.5,225.1 535.5,226.1 539.5,227 543.5,226.9 547.5,226 551.5,223 555.5,220.1 559.5,218.5 563.5,216.3 567.5,212.1 571.5,207.3 575.5,204.6 579.5,201.6 583.5,198.5 587.5,196.4 591.5,195.1 595.5,193.5 599.5,192.4 603.5,191.1 607.5,190.3 611.5,188.2 615.5,187 619.5,186.3 623.5,185.1 627.5,184.7 631.5,184.3 635.5,181.5 639.5,177.9 643.5,174.6 647.5,171.8 651.5,168.9 655.5,168.7 659.5,171.9 663.5,173.4 667.5,173.1 671.5,173.6 675.5,174.8 679.5,175.5 683.5,177.6 687.5,175 691.5,175.1 695.5,175.5 699.5,175.6 703.5,175.9 707.5,175.9 711.5,176.5 715.5,176.3 719.5,176.6 723.5,175.8 727.5,174.9 731.5,172.6 735.5,169.6 739.5,166 743.5,162.1 747.5,157.7 751.5,153.2 755.5,148.2 759.5,143 763.5,139.1 767.5,134.2 771.5,128.2 775.5,122.1 779.5,116 783.5,111.4 787.5,107.4 791.5,103 795.5,98.6 799.5,95.4 803.5,93.1 807.5,89.2 811.5,86.1 815.5,83.2 819.5,80.3 823.5,78.7 827.5,77.4 831.5,76.1 835.5,75.6 839.5,73.7 843.5,72.2 847.5,70.6 851.5,69.4 855.5,69.8 859.5,71.3 863.5,73 867.5,75 871.5,76.7 875.5,79.6 879.5,82 883.5,84.6 887.5,85.7 891.5,86 895.5,87.3 899.5,89.3 903.5,91 907.5,92.4 911.5,93.8 915.5,96.3 919.5,99.3 923.5,101.3 927.5,102.7 931.5,99.4 935.5,95.9 939.5,92.8 943.5,89.5 947.5,86.2 951.5,83.8 955.5,82.3 959.5,81.3 963.5,79.9 967.5,78.5 971.5,77.9 975.5,77.2 979.5,77.8 983.5,79.3 987.5,80.7 991.5,82.1 995.5,84.6 999.5,87.9 1003.5,90.5 1007.5,92.9 1011.5,96 1015.5,99.5 1019.5,102.4 1023.5,104.6 1027.5,107.9 1031.5,111.4 1035.5,113.8 1039.5,116.5" stroke="#f27c00"/>
<polyline points="0,422 3.5,422 7.5,418.4 11.5,414 15.5,409.8 19.5,405.5 23.5,401.6 27.5,398.3 31.5,395.1 35.5,394.1 39.5,390.9 43.5,387.9 47.5,386.3 51.5,385.4 55.5,384.6 59.5,385.2 63.5,386.4 67.5,385.9 71.5,385.8 75.5,386.3 79.5,387.3 83.5,386.3 87.5,384.7 91.5,380.9 95.5,378.5 99.5,378.5 103.5,378.1 107.5,377.7 111.5,376.9 115.5,376.6 119.5,375.5 123.5,375.4 127.5,376 131.5,375.5 135.5,374.7 139.5,373.9 143.5,374.1 147.5,374.2 151.5,373.8 155.5,374 159.5,373.9 163.5,374.5 167.5,374.9 171.5,376 175.5,376.3 179.5,377.6 183.5,379.3 187.5,383.5 191.5,388.3 195.5,393.5 199.5,398.2 203.5,401.4 207.5,403.8 211.5,407.5 215.5,410.9 219.5,413.7 223.5,415.9 227.5,419.5 231.5,421.6 235.5,422.8 239.5,423.8 243.5,425.5 247.5,426.3 251.5,427.6 255.5,427.8 259.5,428.4 263.5,428.6 267.5,428.7 271.5,428.9 275.5,427.3 279.5,424.6 283.5,419.6 287.5,416.5 291.5,412.7 295.5,408.2 299.5,404.7 303.5,400.4 307.5,394.4 311.5,387.6 315.5,380.3 319.5,373.1 323.5,368.6 327.5,362.8 331.5,357.6 335.5,352.6 339.5,348.2 343.5,343.8 347.5,341.2 351.5,337.8 355.5,334.1 359.5,330.7 363.5,327.4 367.5,325.3 371.5,322.6 375.5,318.4 379.5,316.7 383.5,315.9 387.5,315.4 391.5,314.5 395.5,314.3 399.5,314.6 403.5,315.6 407.5,315.8 411.5,315.4 415.5,314.4 419.5,311.4 423.5,307.5 427.5,301.6 431.5,295.4 435.5,290.2 439.5,285.3 443.5,280.1 447.5,275.3 451.5,270.5 455.5,266.7 459.5,262.9 463.5,258.5 467.5,254.3 471.5,249.9 475.5,246.8 479.5,244 483.5,240.9 487.5,237.8 491.5,236.2 495.5,234.5 499.5,232.7 503.5,231.2 507.5,229.2 511.5,227.2 515.5,224.8 519.5,224.3 523.5,224.8 527.5,225.4 531.5,226.1 535.5,226.5 539.5,226.8 543.5,226.4 547.5,225.3 551.5,222.5 555.5,219.8 559.5,218.4 563.5,216.4 567.5,212.7 571.5,208.3 575.5,205.9 579.5,203.2 583.5,200.3 587.5,198.4 591.5,197.1 595.5,195.7 599.5,194.7 603.5,193.3 607.5,192.6 611.5,190.6 615.5,189.4 619.5,188.6 623.5,187.4 627.5,186.8 631.5,186.3 635.5,183.6 639.5,180.2 643.5,177 647.5,174.2 651.5,171.3 655.5,170.6 659.5,173.2 663.5,174.2 667.5,173.7 671.5,173.8 675.5,174.8 679.5,175.3 683.5,177.2 687.5,174.8 691.5,174.9 695.5,175.3 699.5,175.5 703.5,175.9 707.5,175.9 711.5,176.5 715.5,176.4 719.5,176.6 723.5,175.8 727.5,175 731.5,172.8 735.5,169.9 739.5,166.6 743.5,163 747.5,158.9 751.5,154.7 755.5,150 759.5,145.2 763.5,141.6 767.5,137.2 771.5,131.8 775.5,126.3 779.5,120.7 783.5,116.3 787.5,112.3 791.5,108 795.5,103.6 799.5,100.5 803.5,98 807.5,94 811.5,90.9 815.5,87.9 819.5,85 823.5,83.1 827.5,81.5 831.5,79.9 835.5,79 839.5,76.7 843.5,74.8 847.5,72.9 851.5,71.3 855.5,71.3 859.5,72.3 863.5,73.6 867.5,75.1 871.5,76.5 875.5,79 879.5,81.1 883.5,83.4 887.5,84.4 891.5,84.6 895.5,85.8 899.5,87.7 903.5,89.4 907.5,90.8 911.5,92.2 915.5,94.6 919.5,97.4 923.5,99.4 927.5,100.7 931.5,97.8 935.5,94.8 939.5,92.1 943.5,89.2 947.5,86.3 951.5,84.2 955.5,82.9 959.5,82 963.5,80.8 967.5,79.6 971.5,79.2 975.5,78.7 979.5,79.4 983.5,80.7 987.5,82 991.5,83.2 995.5,85.4 999.5,88.4 1003.5,90.5 1007.5,92.7 1011.5,95.4 1015.5,98.5 1019.5,101.2 1023.5,103.2 1027.5,106.1 1031.5,109.3 1035.5,111.4 1039.5,113.8" stroke="#f25200"/>
<polyline points="0,424.4 3.5,424.4 7.5,421 11.5,416.9 15.5,412.8 19.5,408.7 23.5,405.1 27.5,401.8 31.5,398.7 35.5,397.6 39.5,394.5 43.5,391.5 47.5,389.8 51.5,388.7 55.5,387.8 59.5,388 63.5,388.9 67.5,388.2 71.5,387.8 75.5,388 79.5,388.6 83.5,387.4 87.5,385.7 91.5,381.9 95.5,379.5 99.5,379.3 103.5,378.7 107.5,378.3 111.5,377.4 115.5,376.9 119.5,375.8 123.5,375.7 127.5,376.1 131.5,375.6 135.5,374.8 139.5,374 143.5,374.2 147.5,374.2 151.5,374 155.5,374.2 159.5,374.2 163.5,374.9 167.5,375.3 171.5,376.3 175.5,376.6 179.5,377.8 183.5,379.4 187.5,383.3 191.5,387.7 195.5,392.4 199.5,396.7 203.5,399.5 207.5,401.7 211.5,405 215.5,408.1 219.5,410.6 223.5,412.7 227.5,416.2 231.5,418.4 235.5,419.7 239.5,420.9 243.5,422.6 247.5,423.4 251.5,424.8 255.5,425.2 259.5,425.9 263.5,426.3 267.5,426.6 271.5,427 275.5,425.8 279.5,423.6 283.5,419.2 287.5,416.6 291.5,413.3 295.5,409.4 299.5,406.3 303.5,402.4 307.5,397 311.5,390.9 315.5,384.3 319.5,377.7 323.5,373.5 327.5,368 331.5,362.9 335.5,357.9 339.5,353.5 343.5,349.2 347.5,346.5 351.5,343 355.5,339.2 359.5,335.8 363.5,332.4 367.5,330 371.5,327.2 375.5,322.9 379.5,321 383.5,319.9 387.5,318.9 391.5,317.8 395.5,317.1 399.5,317 403.5,317.5 407.5,317.2 411.5,316.4 415.5,315.2 419.5,312.2 423.5,308.4 427.5,302.8 431.5,296.9 435.5,291.8 439.5,287.1 443.5,282.2 447.5,277.6 451.5,273.2 455.5,269.7 459.5,266.1 463.5,262 467.5,258 471.5,253.9 475.5,250.9 479.5,248.2 483.5,245.1 487.5,242 491.5,240.3 495.5,238.5 499.5,236.6 503.5,235 507.5,232.9 511.5,230.9 515.5,228.4 519.5,227.7 523.5,227.8 527.5,228 531.5,228.3 535.5,228.2 539.5,228 543.5,227.2 547.5,225.7 551.5,222.7 555.5,220 559.5,218.4 563.5,216.5 567.5,213 571.5,209 575.5,206.8 579.5,204.3 583.5,201.7 587.5,199.9 591.5,198.7 595.5,197.4 599.5,196.4 603.5,195.2 607.5,194.5 611.5,192.6 615.5,191.4 619.5,190.7 623.5,189.4 627.5,188.8 631.5,188.2 635.5,185.6 639.5,182.3 643.5,179.2 647.5,176.5 651.5,173.7 655.5,173 659.5,175.1 663.5,175.7 667.5,174.9 671.5,174.8 675.5,175.3 679.5,175.6 683.5,177.1 687.5,174.8 691.5,174.8 695.5,175.1 699.5,175.3 703.5,175.7 707.5,175.8 711.5,176.3 715.5,176.3 719.5,176.6 723.5,175.9 727.5,175.1 731.5,173.1 735.5,170.4 739.5,167.3 743.5,163.9 747.5,160.1 751.5,156.1 755.5,151.8 759.5,147.2 763.5,143.8 767.5,139.6 771.5,134.5 775.5,129.5 779.5,124.3 783.5,120.2 787.5,116.6 791.5,112.6 795.5,108.4 799.5,105.2 803.5,102.5 807.5,98.6 811.5,95.5 815.5,92.4 819.5,89.4 823.5,87.4 827.5,85.6 831.5,83.8 835.5,82.6 839.5,80.2 843.5,78.1 847.5,75.9 851.5,74.1 855.5,73.6 859.5,74.1 863.5,74.8 867.5,75.9 871.5,76.9 875.5,79 879.5,80.7 883.5,82.7 887.5,83.5 891.5,83.7 895.5,84.7 899.5,86.4 903.5,88 907.5,89.2 911.5,90.6 915.5,92.9 919.5,95.7 923.5,97.6 927.5,98.9 931.5,96.3 935.5,93.7 939.5,91.3 943.5,88.7 947.5,86.1 951.5,84.3 955.5,83.1 959.5,82.4 963.5,81.4 967.5,80.3 971.5,80 975.5,79.6 979.5,80.2 983.5,81.6 987.5,82.9 991.5,84.1 995.5,86.2 999.5,88.9 1003.5,90.8 1007.5,92.7 1011.5,95.2 1015.5,97.9 1019.5,100.3 1023.5,102.1 1027.5,104.8 1031.5,107.7 1035.5,109.7 1039.5,111.8" stroke="#e32a10"/>
<polyline points="0,426.5 3.5,426.5 7.5,423.3 11.5,419.4 15.5,415.6 19.5,411.7 23.5,408.1 27.5,405 31.5,402 35.5,400.8 39.5,397.8 43.5,394.8 47.5,393.1 51.5,391.9 55.5,390.8 59.5,390.9 63.5,391.5 67.5,390.6 71.5,390 75.5,390 79.5,390.3 83.5,389 87.5,387.2 91.5,383.4 95.5,381 99.5,380.6 103.5,379.8 107.5,379.2 111.5,378.1 115.5,377.6 119.5,376.4 123.5,376.1 127.5,376.5 131.5,375.9 135.5,375 139.5,374.3 143.5,374.3 147.5,374.3 151.5,374.1 155.5,374.2 159.5,374.3 163.5,374.9 167.5,375.4 171.5,376.4 175.5,376.8 179.5,377.9 183.5,379.4 187.5,383.1 191.5,387.1 195.5,391.6 199.5,395.6 203.5,398.2 207.5,400.1 211.5,403.2 215.5,406 219.5,408.3 223.5,410.2 227.5,413.4 231.5,415.4 235.5,416.7 239.5,418 243.5,419.8 247.5,420.8 251.5,422.2 255.5,422.7 259.5,423.5 263.5,424.1 267.5,424.5 271.5,425.1 275.5,424.1 279.5,422.2 283.5,418.3 287.5,416.1 291.5,413.2 295.5,409.8 299.5,407.1 303.5,403.7 307.5,398.8 311.5,393.3 315.5,387.3 319.5,381.2 323.5,377.4 327.5,372.3 331.5,367.6 335.5,362.9 339.5,358.6 343.5,354.3 347.5,351.5 351.5,348 355.5,344.2 359.5,340.7 363.5,337.2 367.5,334.7 371.5,331.8 375.5,327.5 379.5,325.4 383.5,324 387.5,322.8 391.5,321.4 395.5,320.4 399.5,319.9 403.5,320.1 407.5,319.4 411.5,318.3 415.5,316.8 419.5,313.6 423.5,309.8 427.5,304.3 431.5,298.6 435.5,293.7 439.5,289.2 443.5,284.4 447.5,280 451.5,275.7 455.5,272.2 459.5,268.8 463.5,264.9 467.5,261.2 471.5,257.3 475.5,254.4 479.5,251.8 483.5,248.8 487.5,245.9 491.5,244.1 495.5,242.2 499.5,240.3 503.5,238.6 507.5,236.5 511.5,234.4 515.5,231.9 519.5,231 523.5,230.9 527.5,230.9 531.5,230.9 535.5,230.5 539.5,230.1 543.5,228.9 547.5,227.2 551.5,224.1 555.5,221.1 559.5,219.3 563.5,217.1 567.5,213.6 571.5,209.7 575.5,207.6 579.5,205.3 583.5,202.8 587.5,201.2 591.5,200 595.5,198.8 599.5,197.9 603.5,196.7 607.5,196 611.5,194.2 615.5,193.1 619.5,192.4 623.5,191.2 627.5,190.6 631.5,190 635.5,187.5 639.5,184.4 643.5,181.4 647.5,178.8 651.5,176 655.5,175.2 659.5,177 663.5,177.5 667.5,176.6 671.5,176.3 675.5,176.6 679.5,176.5 683.5,177.7 687.5,175.3 691.5,175.1 695.5,175.2 699.5,175.2 703.5,175.5 707.5,175.6 711.5,176.1 715.5,176 719.5,176.4 723.5,175.8 727.5,175.2 731.5,173.3 735.5,170.9 739.5,168 743.5,164.8 747.5,161.2 751.5,157.5 755.5,153.4 759.5,149.1 763.5,145.8 767.5,141.8 771.5,137 775.5,132.2 779.5,127.3 783.5,123.4 787.5,120 791.5,116.2 795.5,112.3 799.5,109.4 803.5,106.9 807.5,103 811.5,99.9 815.5,96.7 819.5,93.6 823.5,91.5 827.5,89.6 831.5,87.6 835.5,86.3 839.5,83.8 843.5,81.6 847.5,79.3 851.5,77.2 855.5,76.4 859.5,76.6 863.5,76.9 867.5,77.5 871.5,78.1 875.5,79.7 879.5,81 883.5,82.6 887.5,83.2 891.5,83.2 895.5,84 899.5,85.5 903.5,86.9 907.5,88.1 911.5,89.3 915.5,91.5 919.5,94 923.5,95.9 927.5,97.2 931.5,94.9 935.5,92.5 939.5,90.4 943.5,88.1 947.5,85.8 951.5,84.1 955.5,83.1 959.5,82.5 963.5,81.7 967.5,80.7 971.5,80.5 975.5,80.1 979.5,80.8 983.5,82.1 987.5,83.3 991.5,84.5 995.5,86.5 999.5,89.1 1003.5,91 1007.5,92.9 1011.5,95.1 1015.5,97.6 1019.5,99.8 1023.5,101.4 1027.5,103.9 1031.5,106.5 1035.5,108.3 1039.5,110.3" stroke="#d31212"/>
<polyline points="0,428.4 3.5,428.4 7.5,425.3 11.5,421.6 15.5,418 19.5,414.3 23.5,410.9 27.5,407.9 31.5,405 35.5,403.7 39.5,400.8 43.5,397.9 47.5,396.2 51.5,394.9 55.5,393.8 59.5,393.7 63.5,394.1 67.5,393.1 71.5,392.4 75.5,392.2 79.5,392.3 83.5,390.9 87.5,389 91.5,385.3 95.5,382.8 99.5,382.2 103.5,381.2 107.5,380.4 111.5,379.3 115.5,378.6 119.5,377.3 123.5,376.9 127.5,377 131.5,376.4 135.5,375.5 139.5,374.7 143.5,374.7 147.5,374.6 151.5,374.3 155.5,374.4 159.5,374.4 163.5,374.9 167.5,375.4 171.5,376.3 175.5,376.7 179.5,377.8 183.5,379.3 187.5,382.7 191.5,386.6 195.5,390.7 199.5,394.5 203.5,397 207.5,398.9 211.5,401.8 215.5,404.4 219.5,406.5 223.5,408.3 227.5,411.2 231.5,413.1 235.5,414.3 239.5,415.5 243.5,417.1 247.5,418.1 251.5,419.6 255.5,420.3 259.5,421.3 263.5,421.9 267.5,422.4 271.5,423.1 275.5,422.3 279.5,420.7 283.5,417.2 287.5,415.3 291.5,412.7 295.5,409.6 299.5,407.3 303.5,404.3 307.5,399.9 311.5,394.9 315.5,389.4 319.5,383.8 323.5,380.3 327.5,375.7 331.5,371.3 335.5,367 339.5,363 343.5,358.9 347.5,356.2 351.5,352.8 355.5,349 359.5,345.4 363.5,341.9 367.5,339.3 371.5,336.3 375.5,332.1 379.5,329.8 383.5,328.2 387.5,326.7 391.5,325.1 395.5,323.9 399.5,323.2 403.5,323 407.5,322.1 411.5,320.8 415.5,319.1 419.5,315.8 423.5,311.9 427.5,306.4 431.5,300.8 435.5,295.9 439.5,291.4 443.5,286.7 447.5,282.4 451.5,278.2 455.5,274.8 459.5,271.4 463.5,267.6 467.5,263.9 471.5,260.2 475.5,257.5 479.5,254.9 483.5,252.1 487.5,249.3 491.5,247.5 495.5,245.7 499.5,243.7 503.5,242 507.5,239.8 511.5,237.8 515.5,235.2 519.5,234.2 523.5,234 527.5,233.7 531.5,233.5 535.5,233 539.5,232.4 543.5,231.2 547.5,229.3 551.5,226.1 555.5,223 559.5,221 563.5,218.7 567.5,215.1 571.5,211.1 575.5,208.7 579.5,206.3 583.5,203.9 587.5,202.2 591.5,201.1 595.5,200 599.5,199.1 603.5,198 607.5,197.3 611.5,195.7 615.5,194.6 619.5,193.9 623.5,192.7 627.5,192.1 631.5,191.6 635.5,189.2 639.5,186.2 643.5,183.4 647.5,180.9 651.5,178.2 655.5,177.3 659.5,178.9 663.5,179.2 667.5,178.3 671.5,177.9 675.5,178 679.5,177.9 683.5,178.8 687.5,176.3 691.5,175.9 695.5,175.8 699.5,175.6 703.5,175.7 707.5,175.6 711.5,176 715.5,175.9 719.5,176.2 723.5,175.6 727.5,175 731.5,173.3 735.5,171.2 739.5,168.5 743.5,165.6 747.5,162.2 751.5,158.7 755.5,154.9 759.5,150.8 763.5,147.7 767.5,143.9 771.5,139.3 775.5,134.7 779.5,130.1 783.5,126.3 787.5,123 791.5,119.4 795.5,115.6 799.5,112.8 803.5,110.4 807.5,106.8 811.5,103.9 815.5,100.9 819.5,97.8 823.5,95.6 827.5,93.5 831.5,91.5 835.5,90 839.5,87.4 843.5,85 847.5,82.7 851.5,80.5 855.5,79.6 859.5,79.4 863.5,79.4 867.5,79.7 871.5,80 875.5,81.1 879.5,82 883.5,83.2 887.5,83.5 891.5,83.2 895.5,83.8 899.5,85.1 903.5,86.2 907.5,87.2 911.5,88.3 915.5,90.3 919.5,92.7 923.5,94.4 927.5,95.6 931.5,93.6 935.5,91.4 939.5,89.5 943.5,87.5 947.5,85.4 951.5,83.9 955.5,83 959.5,82.4 963.5,81.7 967.5,80.9 971.5,80.7 975.5,80.4 979.5,81.1 983.5,82.4 987.5,83.6 991.5,84.7 995.5,86.6 999.5,89.1 1003.5,90.9 1007.5,92.7 1011.5,94.9 1015.5,97.4 1019.5,99.5 1023.5,100.9 1027.5,103.2 1031.5,105.7 1035.5,107.3 1039.5,109.1" stroke="#b40a0a"/>
<polyline points="0,430 3.5,430 7.5,427.1 11.5,423.6 15.5,420.2 19.5,416.6 23.5,413.4 27.5,410.5 31.5,407.7 35.5,406.4 39.5,403.6 43.5,400.8 47.5,399 51.5,397.8 55.5,396.5 59.5,396.3 63.5,396.5 67.5,395.5 71.5,394.7 75.5,394.4 79.5,394.3 83.5,392.8 87.5,390.9 91.5,387.3 95.5,384.8 99.5,384 103.5,383 107.5,382.1 111.5,380.8 115.5,379.9 119.5,378.6 123.5,378 127.5,377.9 131.5,377.2 135.5,376.2 139.5,375.3 143.5,375.2 147.5,375 151.5,374.6 155.5,374.7 159.5,374.6 163.5,375.1 167.5,375.4 171.5,376.3 175.5,376.6 179.5,377.7 183.5,379 187.5,382.3 191.5,386 195.5,389.9 199.5,393.5 203.5,395.9 207.5,397.7 211.5,400.4 215.5,402.9 219.5,405 223.5,406.7 227.5,409.5 231.5,411.3 235.5,412.4 239.5,413.4 243.5,415 247.5,415.9 251.5,417.3 255.5,417.9 259.5,418.9 263.5,419.6 267.5,420.3 271.5,421.1 275.5,420.5 279.5,419.1 283.5,415.9 287.5,414.3 291.5,412 295.5,409.2 299.5,407.2 303.5,404.4 307.5,400.4 311.5,395.8 315.5,390.8 319.5,385.7 323.5,382.5 327.5,378.3 331.5,374.2 335.5,370.2 339.5,366.5 343.5,362.7 347.5,360.2 351.5,356.9 355.5,353.4 359.5,349.9 363.5,346.5 367.5,343.8 371.5,340.7 375.5,336.5 379.5,334.1 383.5,332.3 387.5,330.8 391.5,329 395.5,327.6 399.5,326.6 403.5,326.2 407.5,325.1 411.5,323.6 415.5,321.7 419.5,318.4 423.5,314.5 427.5,309.1 431.5,303.5 435.5,298.7 439.5,294.1 443.5,289.4 447.5,285.1 451.5,280.9 455.5,277.5 459.5,274.1 463.5,270.4 467.5,266.7 471.5,263 475.5,260.3 479.5,257.7 483.5,255 487.5,252.2 491.5,250.5 495.5,248.7 499.5,246.9 503.5,245.1 507.5,243 511.5,240.9 515.5,238.4 519.5,237.3 523.5,236.9 527.5,236.5 531.5,236.2 535.5,235.5 539.5,234.8 543.5,233.4 547.5,231.6 551.5,228.4 555.5,225.4 559.5,223.2 563.5,220.8 567.5,217.1 571.5,213.1 575.5,210.6 579.5,208 583.5,205.4 587.5,203.6 591.5,202.3 595.5,201 599.5,200.1 603.5,199.1 607.5,198.4 611.5,196.9 615.5,195.9 619.5,195.2 623.5,194.1 627.5,193.5 631.5,192.9 635.5,190.6 639.5,187.8 643.5,185.1 647.5,182.8 651.5,180.2 655.5,179.3 659.5,180.7 663.5,180.9 667.5,179.9 671.5,179.4 675.5,179.5 679.5,179.2 683.5,180 687.5,177.6 691.5,177.1 695.5,176.9 699.5,176.5 703.5,176.4 707.5,176.1 711.5,176.3 715.5,176 719.5,176.2 723.5,175.6 727.5,175 731.5,173.4 735.5,171.3 739.5,168.8 743.5,166.1 747.5,163 751.5,159.8 755.5,156.2 759.5,152.3 763.5,149.4 767.5,145.8 771.5,141.5 775.5,137.1 779.5,132.6 783.5,129 787.5,125.8 791.5,122.3 795.5,118.7 799.5,115.9 803.5,113.5 807.5,110 811.5,107.2 815.5,104.3 819.5,101.4 823.5,99.3 827.5,97.3 831.5,95.2 835.5,93.6 839.5,90.9 843.5,88.5 847.5,86.1 851.5,83.9 855.5,82.7 859.5,82.4 863.5,82.2 867.5,82.3 871.5,82.2 875.5,83.1 879.5,83.6 883.5,84.5 887.5,84.5 891.5,84 895.5,84.3 899.5,85.2 903.5,86.1 907.5,86.9 911.5,87.8 915.5,89.5 919.5,91.6 923.5,93.2 927.5,94.4 931.5,92.4 935.5,90.4 939.5,88.6 943.5,86.7 947.5,84.8 951.5,83.5 955.5,82.7 959.5,82.3 963.5,81.6 967.5,80.9 971.5,80.8 975.5,80.6 979.5,81.2 983.5,82.4 987.5,83.6 991.5,84.7 995.5,86.5 999.5,88.9 1003.5,90.7 1007.5,92.4 1011.5,94.5 1015.5,96.8 1019.5,98.9 1023.5,100.4 1027.5,102.6 1031.5,105 1035.5,106.5 1039.5,108.2" stroke="#960000"/>
</g>
<path d="M0 421.5C2.9 420.4 11.6 416.9 17.4 414.7C23.2 412.5 29 410.2 34.8 408.3C40.6 406.3 46.4 404.5 52.2 403.1C58 401.6 63.9 400.8 69.7 399.4C75.5 398 81.2 396.4 87 394.6C92.8 392.7 99 390.2 104.5 388.2C110 386.3 114.5 384.5 120 383C125.5 381.5 131.6 380.2 137.4 379.2C143.2 378.2 149 377.4 154.8 377C160.6 376.6 167.8 376.4 172.2 376.7C176.6 377 178.1 377.6 181 378.7C183.9 379.7 186.8 381.3 189.7 383C192.6 384.8 195.5 387.1 198.4 389.2C201.3 391.2 204.1 393.4 207 395.3C209.9 397.2 212.9 398.9 215.8 400.5C218.7 402.1 221.6 403.5 224.5 404.8C227.4 406.2 230.6 407.4 233.2 408.5C235.8 409.6 238.1 410.6 240 411.6C241.9 412.5 242.5 413.3 244.7 414C246.9 414.8 250.5 415.5 253.4 416C256.3 416.6 259.1 417.1 262 417.3C264.9 417.6 267.9 417.7 270.8 417.5C273.7 417.3 276.6 416.8 279.5 416.1C282.4 415.3 285.3 414.1 288.2 412.8C291.1 411.6 294.1 410.3 297 408.8C299.9 407.2 302.8 405.5 305.7 403.3C308.6 401.1 311.5 398.3 314.4 395.4C317.3 392.6 320.1 389.2 323 386.1C325.9 383 328.9 379.8 331.8 377C334.7 374.2 337.6 371.4 340.5 369.1C343.4 366.8 346.6 365.1 349.2 363.2C351.8 361.3 353.4 359.8 356 357.8C358.6 355.7 361.8 353.3 364.7 351.1C367.6 348.8 370.5 346.3 373.4 344.2C376.3 342.2 379.1 340.5 382 339C384.9 337.5 387.9 336.2 390.8 335.1C393.7 333.9 396.6 333 399.5 332C402.4 331.1 405.3 330.5 408.2 329.4C411.1 328.4 414.1 327.4 417 325.8C419.9 324.1 422.8 321.9 425.7 319.3C428.6 316.7 431.5 313.4 434.4 310.2C437.3 306.9 440.1 303.3 443 299.9C445.9 296.4 448.9 292.8 451.8 289.4C454.7 286 457.6 282.4 460.5 279.3C463.4 276.1 466.6 273.2 469.2 270.6C471.8 268.1 473.7 266.1 476 264.1C478.3 262.2 480.4 260.6 483 259C485.6 257.4 488.9 255.9 491.8 254.4C494.7 253 497.6 251.5 500.5 250.1C503.4 248.7 506.6 247.2 509.2 246C511.8 244.8 513.9 243.8 516 242.9C518.1 242 519.5 241.3 522 240.6C524.5 239.8 527.9 239.2 530.8 238.4C533.7 237.6 536.6 236.9 539.5 235.8C542.4 234.7 545.3 233.5 548.2 232.1C551.1 230.7 554.1 229.2 557 227.5C559.9 225.9 562.8 224.1 565.7 222.1C568.6 220.1 571.5 217.8 574.4 215.8C577.3 213.8 580.1 211.7 583 210C585.9 208.3 588.9 206.9 591.8 205.7C594.7 204.5 597.6 203.6 600.5 202.8C603.4 201.9 606.6 201.2 609.2 200.5C611.8 199.8 613.9 199.3 616 198.6C618.1 197.9 619.5 197.4 622 196.5C624.5 195.7 627.9 194.8 630.8 193.6C633.7 192.4 636.6 190.9 639.5 189.5C642.4 188.1 645.9 186.3 648.2 185.2C650.5 184 650.6 183 653.5 182.3C656.4 181.6 662.2 181.4 665.7 181.1C669.2 180.8 671.5 180.7 674.4 180.4C677.3 180.2 680.1 180 683 179.8C685.9 179.6 688.9 179.4 691.8 179.2C694.7 178.9 696.9 178.6 700.5 178.2C704.1 177.9 709.8 177.6 713.4 177.2C717 176.8 719.1 176.6 722 175.9C724.9 175.3 727.9 174.6 730.8 173.4C733.7 172.2 736.6 170.8 739.5 169C742.4 167.3 745.3 165.3 748.2 163C751.1 160.8 754.1 158.2 757 155.5C759.9 152.8 762.8 149.8 765.7 146.8C768.6 143.8 771.5 140.7 774.4 137.8C777.3 134.8 780.1 131.8 783 129C785.9 126.3 788.9 123.6 791.8 121.1C794.7 118.6 797.6 116.4 800.5 114.2C803.4 112 806.5 110 809.2 108.1C812 106.1 814.2 104.3 817 102.5C819.8 100.8 822.8 99.1 825.7 97.5C828.6 95.9 831.5 94.5 834.4 93C837.3 91.6 840.1 90.1 843 88.9C845.9 87.7 848.9 86.5 851.8 85.7C854.7 85 857.3 84.7 860.5 84.5C863.7 84.4 867.6 84.7 870.8 84.9C874 85.1 876.6 85.5 879.5 85.7C882.4 86 885.3 86.2 888.2 86.4C891.1 86.7 894.1 86.8 897 87.1C899.9 87.5 902.8 88 905.7 88.6C908.6 89.2 911.8 90.1 914.4 90.9C917 91.6 918.9 92.6 921.2 93.2C923.5 93.8 926.2 94.6 928.2 94.7C930.2 94.7 931.1 94.2 933.4 93.4C935.7 92.5 939.1 90.6 942 89.4C944.9 88.1 947.9 86.7 950.8 85.8C953.7 84.8 956.6 84.2 959.5 83.6C962.4 83 965.3 82.5 968.2 82.1C971.1 81.7 974.1 81.4 977 81.5C979.9 81.5 982.8 81.8 985.7 82.3C988.6 82.9 991.5 83.7 994.4 84.7C997.3 85.7 1000.1 86.9 1003 88.2C1005.9 89.5 1008.9 90.9 1011.8 92.3C1014.7 93.8 1017.6 95.4 1020.5 96.9C1023.4 98.4 1026.6 100 1029.2 101.2C1031.8 102.5 1034.3 103.4 1036 104.3C1037.7 105.1 1038.9 105.9 1039.5 106.2" fill="none" stroke="#1e1e80" stroke-width="5" stroke-linejoin="round" stroke-linecap="round" clip-path="url(#cm)"/>
<g clip-path="url(#cm)" shape-rendering="crispEdges">
<rect x="3" y="374" width="1" height="20" fill="#a60000"/>
<rect x="2" y="379" width="3" height="10" fill="#a60000"/>
<rect x="3" y="380" width="1" height="8" fill="#ea1616"/>
<rect x="7" y="371" width="1" height="14" fill="#a60000"/>
<rect x="6" y="375" width="3" height="5" fill="#a60000"/>
<rect x="7" y="376" width="1" height="3" fill="#ea1616"/>
<rect x="11" y="354" width="1" height="35" fill="#a60000"/>
<rect x="10" y="359" width="3" height="17" fill="#a60000"/>
<rect x="11" y="360" width="1" height="15" fill="#ea1616"/>
<rect x="15" y="345" width="1" height="32" fill="#a60000"/>
<rect x="14" y="358" width="3" height="2" fill="#a60000"/>
<rect x="19" y="351" width="1" height="32" fill="#a60000"/>
<rect x="18" y="354" width="3" height="5" fill="#a60000"/>
<rect x="19" y="355" width="1" height="3" fill="#ea1616"/>
<rect x="23" y="349" width="1" height="13" fill="#26705a"/>
<rect x="22" y="355" width="3" height="4" fill="#26705a"/>
<rect x="23" y="356" width="1" height="2" fill="#aef0bc"/>
<rect x="27" y="356" width="1" height="15" fill="#a60000"/>
<rect x="26" y="364" width="3" height="2" fill="#a60000"/>
<rect x="31" y="360" width="1" height="9" fill="#a60000"/>
<rect x="30" y="365" width="3" height="3" fill="#a60000"/>
<rect x="31" y="366" width="1" height="1" fill="#ea1616"/>
<rect x="35" y="361" width="1" height="44" fill="#26705a"/>
<rect x="34" y="367" width="3" height="31" fill="#26705a"/>
<rect x="35" y="368" width="1" height="29" fill="#aef0bc"/>
<rect x="39" y="355" width="1" height="49" fill="#a60000"/>
<rect x="38" y="360" width="3" height="39" fill="#a60000"/>
<rect x="39" y="361" width="1" height="37" fill="#ea1616"/>
<rect x="43" y="349" width="1" height="22" fill="#a60000"/>
<rect x="42" y="359" width="3" height="2" fill="#a60000"/>
<rect x="47" y="355" width="1" height="28" fill="#26705a"/>
<rect x="46" y="360" width="3" height="21" fill="#26705a"/>
<rect x="47" y="361" width="1" height="19" fill="#aef0bc"/>
<rect x="51" y="377" width="1" height="15" fill="#26705a"/>
<rect x="50" y="382" width="3" height="8" fill="#26705a"/>
<rect x="51" y="383" width="1" height="6" fill="#aef0bc"/>
<rect x="55" y="385" width="1" height="13" fill="#a60000"/>
<rect x="54" y="390" width="3" height="4" fill="#a60000"/>
<rect x="55" y="391" width="1" height="2" fill="#ea1616"/>
<rect x="59" y="375" width="1" height="37" fill="#26705a"/>
<rect x="58" y="394" width="3" height="17" fill="#26705a"/>
<rect x="59" y="395" width="1" height="15" fill="#aef0bc"/>
<rect x="63" y="404" width="1" height="28" fill="#26705a"/>
<rect x="62" y="409" width="3" height="12" fill="#26705a"/>
<rect x="63" y="410" width="1" height="10" fill="#aef0bc"/>
<rect x="67" y="389" width="1" height="49" fill="#a60000"/>
<rect x="66" y="390" width="3" height="32" fill="#a60000"/>
<rect x="67" y="391" width="1" height="30" fill="#ea1616"/>
<rect x="71" y="386" width="1" height="11" fill="#26705a"/>
<rect x="70" y="389" width="3" height="6" fill="#26705a"/>
<rect x="71" y="390" width="1" height="4" fill="#aef0bc"/>
<rect x="75" y="399" width="1" height="15" fill="#a60000"/>
<rect x="74" y="404" width="3" height="4" fill="#a60000"/>
<rect x="75" y="405" width="1" height="2" fill="#ea1616"/>
<rect x="79" y="398" width="1" height="14" fill="#26705a"/>
<rect x="78" y="403" width="3" height="7" fill="#26705a"/>
<rect x="79" y="404" width="1" height="5" fill="#aef0bc"/>
<rect x="83" y="370" width="1" height="53" fill="#a60000"/>
<rect x="82" y="375" width="3" height="35" fill="#a60000"/>
<rect x="83" y="376" width="1" height="33" fill="#ea1616"/>
<rect x="87" y="350" width="1" height="27" fill="#a60000"/>
<rect x="86" y="363" width="3" height="12" fill="#a60000"/>
<rect x="87" y="364" width="1" height="10" fill="#ea1616"/>
<rect x="91" y="322" width="1" height="46" fill="#a60000"/>
<rect x="90" y="323" width="3" height="43" fill="#a60000"/>
<rect x="91" y="324" width="1" height="41" fill="#ea1616"/>
<rect x="95" y="323" width="1" height="26" fill="#26705a"/>
<rect x="94" y="326" width="3" height="18" fill="#26705a"/>
<rect x="95" y="327" width="1" height="16" fill="#aef0bc"/>
<rect x="99" y="342" width="1" height="42" fill="#26705a"/>
<rect x="98" y="350" width="3" height="33" fill="#26705a"/>
<rect x="99" y="351" width="1" height="31" fill="#aef0bc"/>
<rect x="103" y="369" width="1" height="14" fill="#a60000"/>
<rect x="102" y="374" width="3" height="3" fill="#a60000"/>
<rect x="103" y="375" width="1" height="1" fill="#ea1616"/>
<rect x="107" y="335" width="1" height="83" fill="#a60000"/>
<rect x="106" y="375" width="3" height="6" fill="#a60000"/>
<rect x="107" y="376" width="1" height="4" fill="#ea1616"/>
<rect x="111" y="356" width="1" height="49" fill="#a60000"/>
<rect x="110" y="365" width="3" height="10" fill="#a60000"/>
<rect x="111" y="366" width="1" height="8" fill="#ea1616"/>
<rect x="115" y="360" width="1" height="42" fill="#26705a"/>
<rect x="114" y="365" width="3" height="8" fill="#26705a"/>
<rect x="115" y="366" width="1" height="6" fill="#aef0bc"/>
<rect x="119" y="352" width="1" height="20" fill="#a60000"/>
<rect x="118" y="359" width="3" height="9" fill="#a60000"/>
<rect x="119" y="360" width="1" height="7" fill="#ea1616"/>
<rect x="123" y="371" width="1" height="13" fill="#a60000"/>
<rect x="122" y="375" width="3" height="7" fill="#a60000"/>
<rect x="123" y="376" width="1" height="5" fill="#ea1616"/>
<rect x="127" y="373" width="1" height="15" fill="#26705a"/>
<rect x="126" y="376" width="3" height="10" fill="#26705a"/>
<rect x="127" y="377" width="1" height="8" fill="#aef0bc"/>
<rect x="131" y="353" width="1" height="39" fill="#a60000"/>
<rect x="130" y="368" width="3" height="18" fill="#a60000"/>
<rect x="131" y="369" width="1" height="16" fill="#ea1616"/>
<rect x="135" y="345" width="1" height="28" fill="#a60000"/>
<rect x="134" y="361" width="3" height="7" fill="#a60000"/>
<rect x="135" y="362" width="1" height="5" fill="#ea1616"/>
<rect x="139" y="354" width="1" height="15" fill="#26705a"/>
<rect x="138" y="361" width="3" height="1" fill="#26705a"/>
<rect x="143" y="361" width="1" height="23" fill="#26705a"/>
<rect x="142" y="362" width="3" height="15" fill="#26705a"/>
<rect x="143" y="363" width="1" height="13" fill="#aef0bc"/>
<rect x="147" y="375" width="1" height="9" fill="#a60000"/>
<rect x="146" y="376" width="3" height="3" fill="#a60000"/>
<rect x="147" y="377" width="1" height="1" fill="#ea1616"/>
<rect x="151" y="367" width="1" height="17" fill="#a60000"/>
<rect x="150" y="370" width="3" height="9" fill="#a60000"/>
<rect x="151" y="371" width="1" height="7" fill="#ea1616"/>
<rect x="155" y="356" width="1" height="26" fill="#26705a"/>
<rect x="154" y="370" width="3" height="8" fill="#26705a"/>
<rect x="155" y="371" width="1" height="6" fill="#aef0bc"/>
<rect x="159" y="370" width="1" height="24" fill="#a60000"/>
<rect x="158" y="375" width="3" height="3" fill="#a60000"/>
<rect x="159" y="376" width="1" height="1" fill="#ea1616"/>
<rect x="163" y="362" width="1" height="31" fill="#26705a"/>
<rect x="162" y="376" width="3" height="12" fill="#26705a"/>
<rect x="163" y="377" width="1" height="10" fill="#aef0bc"/>
<rect x="167" y="383" width="1" height="6" fill="#a60000"/>
<rect x="166" y="384" width="3" height="4" fill="#a60000"/>
<rect x="167" y="385" width="1" height="2" fill="#ea1616"/>
<rect x="171" y="381" width="1" height="16" fill="#26705a"/>
<rect x="170" y="387" width="3" height="9" fill="#26705a"/>
<rect x="171" y="388" width="1" height="7" fill="#aef0bc"/>
<rect x="175" y="381" width="1" height="17" fill="#a60000"/>
<rect x="174" y="383" width="3" height="13" fill="#a60000"/>
<rect x="175" y="384" width="1" height="11" fill="#ea1616"/>
<rect x="179" y="376" width="1" height="32" fill="#26705a"/>
<rect x="178" y="383" width="3" height="18" fill="#26705a"/>
<rect x="179" y="384" width="1" height="16" fill="#aef0bc"/>
<rect x="183" y="397" width="1" height="33" fill="#26705a"/>
<rect x="182" y="400" width="3" height="8" fill="#26705a"/>
<rect x="183" y="401" width="1" height="6" fill="#aef0bc"/>
<rect x="187" y="404" width="1" height="52" fill="#26705a"/>
<rect x="186" y="407" width="3" height="45" fill="#26705a"/>
<rect x="187" y="408" width="1" height="43" fill="#aef0bc"/>
<rect x="191" y="445" width="1" height="29" fill="#26705a"/>
<rect x="190" y="452" width="3" height="11" fill="#26705a"/>
<rect x="191" y="453" width="1" height="9" fill="#aef0bc"/>
<rect x="195" y="456" width="1" height="19" fill="#26705a"/>
<rect x="194" y="467" width="3" height="5" fill="#26705a"/>
<rect x="195" y="468" width="1" height="3" fill="#aef0bc"/>
<rect x="199" y="457" width="1" height="22" fill="#a60000"/>
<rect x="198" y="466" width="3" height="7" fill="#a60000"/>
<rect x="199" y="467" width="1" height="5" fill="#ea1616"/>
<rect x="203" y="442" width="1" height="27" fill="#a60000"/>
<rect x="202" y="442" width="3" height="25" fill="#a60000"/>
<rect x="203" y="443" width="1" height="23" fill="#ea1616"/>
<rect x="207" y="424" width="1" height="32" fill="#a60000"/>
<rect x="206" y="429" width="3" height="13" fill="#a60000"/>
<rect x="207" y="430" width="1" height="11" fill="#ea1616"/>
<rect x="211" y="404" width="1" height="50" fill="#26705a"/>
<rect x="210" y="429" width="3" height="23" fill="#26705a"/>
<rect x="211" y="430" width="1" height="21" fill="#aef0bc"/>
<rect x="215" y="436" width="1" height="18" fill="#a60000"/>
<rect x="214" y="449" width="3" height="3" fill="#a60000"/>
<rect x="215" y="450" width="1" height="1" fill="#ea1616"/>
<rect x="219" y="436" width="1" height="17" fill="#a60000"/>
<rect x="218" y="440" width="3" height="11" fill="#a60000"/>
<rect x="219" y="441" width="1" height="9" fill="#ea1616"/>
<rect x="223" y="428" width="1" height="19" fill="#a60000"/>
<rect x="222" y="434" width="3" height="7" fill="#a60000"/>
<rect x="223" y="435" width="1" height="5" fill="#ea1616"/>
<rect x="227" y="422" width="1" height="38" fill="#26705a"/>
<rect x="226" y="434" width="3" height="25" fill="#26705a"/>
<rect x="227" y="435" width="1" height="23" fill="#aef0bc"/>
<rect x="231" y="429" width="1" height="50" fill="#a60000"/>
<rect x="230" y="438" width="3" height="21" fill="#a60000"/>
<rect x="231" y="439" width="1" height="19" fill="#ea1616"/>
<rect x="235" y="418" width="1" height="32" fill="#a60000"/>
<rect x="234" y="424" width="3" height="15" fill="#a60000"/>
<rect x="235" y="425" width="1" height="13" fill="#ea1616"/>
<rect x="239" y="422" width="1" height="16" fill="#a60000"/>
<rect x="238" y="424" width="3" height="14" fill="#a60000"/>
<rect x="239" y="425" width="1" height="12" fill="#ea1616"/>
<rect x="243" y="422" width="1" height="22" fill="#26705a"/>
<rect x="242" y="428" width="3" height="7" fill="#26705a"/>
<rect x="243" y="429" width="1" height="5" fill="#aef0bc"/>
<rect x="247" y="418" width="1" height="17" fill="#a60000"/>
<rect x="246" y="422" width="3" height="12" fill="#a60000"/>
<rect x="247" y="423" width="1" height="10" fill="#ea1616"/>
<rect x="251" y="417" width="1" height="18" fill="#26705a"/>
<rect x="250" y="421" width="3" height="12" fill="#26705a"/>
<rect x="251" y="422" width="1" height="10" fill="#aef0bc"/>
<rect x="255" y="409" width="1" height="27" fill="#a60000"/>
<rect x="254" y="416" width="3" height="18" fill="#a60000"/>
<rect x="255" y="417" width="1" height="16" fill="#ea1616"/>
<rect x="259" y="418" width="1" height="24" fill="#26705a"/>
<rect x="258" y="422" width="3" height="2" fill="#26705a"/>
<rect x="263" y="410" width="1" height="14" fill="#a60000"/>
<rect x="262" y="419" width="3" height="5" fill="#a60000"/>
<rect x="263" y="420" width="1" height="3" fill="#ea1616"/>
<rect x="267" y="410" width="1" height="12" fill="#a60000"/>
<rect x="266" y="418" width="3" height="3" fill="#a60000"/>
<rect x="267" y="419" width="1" height="1" fill="#ea1616"/>
<rect x="271" y="410" width="1" height="18" fill="#26705a"/>
<rect x="270" y="417" width="3" height="6" fill="#26705a"/>
<rect x="271" y="418" width="1" height="4" fill="#aef0bc"/>
<rect x="275" y="390" width="1" height="34" fill="#a60000"/>
<rect x="274" y="393" width="3" height="30" fill="#a60000"/>
<rect x="275" y="394" width="1" height="28" fill="#ea1616"/>
<rect x="279" y="372" width="1" height="24" fill="#a60000"/>
<rect x="278" y="375" width="3" height="19" fill="#a60000"/>
<rect x="279" y="376" width="1" height="17" fill="#ea1616"/>
<rect x="283" y="332" width="1" height="46" fill="#a60000"/>
<rect x="282" y="335" width="3" height="41" fill="#a60000"/>
<rect x="283" y="336" width="1" height="39" fill="#ea1616"/>
<rect x="287" y="323" width="1" height="50" fill="#26705a"/>
<rect x="286" y="335" width="3" height="33" fill="#26705a"/>
<rect x="287" y="336" width="1" height="31" fill="#aef0bc"/>
<rect x="291" y="348" width="1" height="26" fill="#a60000"/>
<rect x="290" y="354" width="3" height="12" fill="#a60000"/>
<rect x="291" y="355" width="1" height="10" fill="#ea1616"/>
<rect x="295" y="338" width="1" height="18" fill="#a60000"/>
<rect x="294" y="343" width="3" height="12" fill="#a60000"/>
<rect x="295" y="344" width="1" height="10" fill="#ea1616"/>
<rect x="299" y="337" width="1" height="30" fill="#26705a"/>
<rect x="298" y="343" width="3" height="15" fill="#26705a"/>
<rect x="299" y="344" width="1" height="13" fill="#aef0bc"/>
<rect x="303" y="315" width="1" height="89" fill="#a60000"/>
<rect x="302" y="342" width="3" height="16" fill="#a60000"/>
<rect x="303" y="343" width="1" height="14" fill="#ea1616"/>
<rect x="307" y="302" width="1" height="47" fill="#a60000"/>
<rect x="306" y="313" width="3" height="30" fill="#a60000"/>
<rect x="307" y="314" width="1" height="28" fill="#ea1616"/>
<rect x="311" y="297" width="1" height="19" fill="#a60000"/>
<rect x="310" y="298" width="3" height="16" fill="#a60000"/>
<rect x="311" y="299" width="1" height="14" fill="#ea1616"/>
<rect x="315" y="282" width="1" height="27" fill="#a60000"/>
<rect x="314" y="286" width="3" height="22" fill="#a60000"/>
<rect x="315" y="287" width="1" height="20" fill="#ea1616"/>
<rect x="319" y="275" width="1" height="19" fill="#a60000"/>
<rect x="318" y="283" width="3" height="3" fill="#a60000"/>
<rect x="319" y="284" width="1" height="1" fill="#ea1616"/>
<rect x="323" y="279" width="1" height="49" fill="#26705a"/>
<rect x="322" y="283" width="3" height="41" fill="#26705a"/>
<rect x="323" y="284" width="1" height="39" fill="#aef0bc"/>
<rect x="327" y="293" width="1" height="32" fill="#a60000"/>
<rect x="326" y="299" width="3" height="24" fill="#a60000"/>
<rect x="327" y="300" width="1" height="22" fill="#ea1616"/>
<rect x="331" y="287" width="1" height="23" fill="#26705a"/>
<rect x="330" y="297" width="3" height="6" fill="#26705a"/>
<rect x="331" y="298" width="1" height="4" fill="#aef0bc"/>
<rect x="335" y="300" width="1" height="7" fill="#a60000"/>
<rect x="334" y="301" width="3" height="1" fill="#a60000"/>
<rect x="339" y="296" width="1" height="16" fill="#a60000"/>
<rect x="338" y="307" width="3" height="4" fill="#a60000"/>
<rect x="339" y="308" width="1" height="2" fill="#ea1616"/>
<rect x="343" y="296" width="1" height="18" fill="#26705a"/>
<rect x="342" y="302" width="3" height="2" fill="#26705a"/>
<rect x="347" y="305" width="1" height="31" fill="#26705a"/>
<rect x="346" y="307" width="3" height="23" fill="#26705a"/>
<rect x="347" y="308" width="1" height="21" fill="#aef0bc"/>
<rect x="351" y="311" width="1" height="25" fill="#a60000"/>
<rect x="350" y="313" width="3" height="17" fill="#a60000"/>
<rect x="351" y="314" width="1" height="15" fill="#ea1616"/>
<rect x="355" y="290" width="1" height="35" fill="#a60000"/>
<rect x="354" y="303" width="3" height="10" fill="#a60000"/>
<rect x="355" y="304" width="1" height="8" fill="#ea1616"/>
<rect x="359" y="295" width="1" height="16" fill="#26705a"/>
<rect x="358" y="304" width="3" height="1" fill="#26705a"/>
<rect x="363" y="290" width="1" height="34" fill="#a60000"/>
<rect x="362" y="302" width="3" height="18" fill="#a60000"/>
<rect x="363" y="303" width="1" height="16" fill="#ea1616"/>
<rect x="367" y="300" width="1" height="20" fill="#26705a"/>
<rect x="366" y="302" width="3" height="16" fill="#26705a"/>
<rect x="367" y="303" width="1" height="14" fill="#aef0bc"/>
<rect x="371" y="303" width="1" height="29" fill="#a60000"/>
<rect x="370" y="306" width="3" height="12" fill="#a60000"/>
<rect x="371" y="307" width="1" height="10" fill="#ea1616"/>
<rect x="375" y="270" width="1" height="50" fill="#a60000"/>
<rect x="374" y="275" width="3" height="40" fill="#a60000"/>
<rect x="375" y="276" width="1" height="38" fill="#ea1616"/>
<rect x="379" y="276" width="1" height="42" fill="#26705a"/>
<rect x="378" y="277" width="3" height="37" fill="#26705a"/>
<rect x="379" y="278" width="1" height="35" fill="#aef0bc"/>
<rect x="383" y="311" width="1" height="17" fill="#26705a"/>
<rect x="382" y="314" width="3" height="11" fill="#26705a"/>
<rect x="383" y="315" width="1" height="9" fill="#aef0bc"/>
<rect x="387" y="320" width="1" height="14" fill="#a60000"/>
<rect x="386" y="326" width="3" height="2" fill="#a60000"/>
<rect x="391" y="316" width="1" height="12" fill="#a60000"/>
<rect x="390" y="319" width="3" height="8" fill="#a60000"/>
<rect x="391" y="320" width="1" height="6" fill="#ea1616"/>
<rect x="395" y="318" width="1" height="12" fill="#26705a"/>
<rect x="394" y="324" width="3" height="2" fill="#26705a"/>
<rect x="399" y="325" width="1" height="28" fill="#26705a"/>
<rect x="398" y="326" width="3" height="6" fill="#26705a"/>
<rect x="399" y="327" width="1" height="4" fill="#aef0bc"/>
<rect x="403" y="325" width="1" height="29" fill="#26705a"/>
<rect x="402" y="330" width="3" height="12" fill="#26705a"/>
<rect x="403" y="331" width="1" height="10" fill="#aef0bc"/>
<rect x="407" y="322" width="1" height="20" fill="#a60000"/>
<rect x="406" y="325" width="3" height="14" fill="#a60000"/>
<rect x="407" y="326" width="1" height="12" fill="#ea1616"/>
<rect x="411" y="312" width="1" height="29" fill="#a60000"/>
<rect x="410" y="312" width="3" height="19" fill="#a60000"/>
<rect x="411" y="313" width="1" height="17" fill="#ea1616"/>
<rect x="415" y="300" width="1" height="14" fill="#a60000"/>
<rect x="414" y="302" width="3" height="11" fill="#a60000"/>
<rect x="415" y="303" width="1" height="9" fill="#ea1616"/>
<rect x="419" y="261" width="1" height="45" fill="#a60000"/>
<rect x="418" y="265" width="3" height="39" fill="#a60000"/>
<rect x="419" y="266" width="1" height="37" fill="#ea1616"/>
<rect x="423" y="235" width="1" height="36" fill="#a60000"/>
<rect x="422" y="248" width="3" height="18" fill="#a60000"/>
<rect x="423" y="249" width="1" height="16" fill="#ea1616"/>
<rect x="427" y="205" width="1" height="50" fill="#a60000"/>
<rect x="426" y="210" width="3" height="39" fill="#a60000"/>
<rect x="427" y="211" width="1" height="37" fill="#ea1616"/>
<rect x="431" y="200" width="1" height="14" fill="#a60000"/>
<rect x="430" y="201" width="3" height="10" fill="#a60000"/>
<rect x="431" y="202" width="1" height="8" fill="#ea1616"/>
<rect x="435" y="202" width="1" height="16" fill="#26705a"/>
<rect x="434" y="203" width="3" height="10" fill="#26705a"/>
<rect x="435" y="204" width="1" height="8" fill="#aef0bc"/>
<rect x="439" y="211" width="1" height="9" fill="#26705a"/>
<rect x="438" y="212" width="3" height="3" fill="#26705a"/>
<rect x="439" y="213" width="1" height="1" fill="#aef0bc"/>
<rect x="443" y="196" width="1" height="24" fill="#a60000"/>
<rect x="442" y="207" width="3" height="8" fill="#a60000"/>
<rect x="443" y="208" width="1" height="6" fill="#ea1616"/>
<rect x="447" y="192" width="1" height="36" fill="#26705a"/>
<rect x="446" y="207" width="3" height="3" fill="#26705a"/>
<rect x="447" y="208" width="1" height="1" fill="#aef0bc"/>
<rect x="451" y="174" width="1" height="38" fill="#a60000"/>
<rect x="450" y="209" width="3" height="2" fill="#a60000"/>
<rect x="455" y="202" width="1" height="24" fill="#26705a"/>
<rect x="454" y="209" width="3" height="14" fill="#26705a"/>
<rect x="455" y="210" width="1" height="12" fill="#aef0bc"/>
<rect x="459" y="218" width="1" height="15" fill="#a60000"/>
<rect x="458" y="219" width="3" height="13" fill="#a60000"/>
<rect x="459" y="220" width="1" height="11" fill="#ea1616"/>
<rect x="463" y="207" width="1" height="19" fill="#a60000"/>
<rect x="462" y="208" width="3" height="12" fill="#a60000"/>
<rect x="463" y="209" width="1" height="10" fill="#ea1616"/>
<rect x="467" y="193" width="1" height="18" fill="#a60000"/>
<rect x="466" y="207" width="3" height="2" fill="#a60000"/>
<rect x="471" y="196" width="1" height="28" fill="#a60000"/>
<rect x="470" y="203" width="3" height="5" fill="#a60000"/>
<rect x="471" y="204" width="1" height="3" fill="#ea1616"/>
<rect x="475" y="194" width="1" height="39" fill="#26705a"/>
<rect x="474" y="201" width="3" height="19" fill="#26705a"/>
<rect x="475" y="202" width="1" height="17" fill="#aef0bc"/>
<rect x="479" y="212" width="1" height="13" fill="#26705a"/>
<rect x="478" y="220" width="3" height="3" fill="#26705a"/>
<rect x="479" y="221" width="1" height="1" fill="#aef0bc"/>
<rect x="483" y="214" width="1" height="21" fill="#a60000"/>
<rect x="482" y="214" width="3" height="19" fill="#a60000"/>
<rect x="483" y="215" width="1" height="17" fill="#ea1616"/>
<rect x="487" y="210" width="1" height="5" fill="#26705a"/>
<rect x="486" y="211" width="3" height="2" fill="#26705a"/>
<rect x="491" y="206" width="1" height="29" fill="#26705a"/>
<rect x="490" y="215" width="3" height="19" fill="#26705a"/>
<rect x="491" y="216" width="1" height="17" fill="#aef0bc"/>
<rect x="495" y="222" width="1" height="13" fill="#a60000"/>
<rect x="494" y="230" width="3" height="3" fill="#a60000"/>
<rect x="495" y="231" width="1" height="1" fill="#ea1616"/>
<rect x="499" y="214" width="1" height="28" fill="#a60000"/>
<rect x="498" y="227" width="3" height="4" fill="#a60000"/>
<rect x="499" y="228" width="1" height="2" fill="#ea1616"/>
<rect x="503" y="220" width="1" height="11" fill="#26705a"/>
<rect x="502" y="222" width="3" height="7" fill="#26705a"/>
<rect x="503" y="223" width="1" height="5" fill="#aef0bc"/>
<rect x="507" y="218" width="1" height="18" fill="#a60000"/>
<rect x="506" y="218" width="3" height="17" fill="#a60000"/>
<rect x="507" y="219" width="1" height="15" fill="#ea1616"/>
<rect x="511" y="215" width="1" height="9" fill="#a60000"/>
<rect x="510" y="218" width="3" height="3" fill="#a60000"/>
<rect x="511" y="219" width="1" height="1" fill="#ea1616"/>
<rect x="515" y="198" width="1" height="30" fill="#a60000"/>
<rect x="514" y="206" width="3" height="14" fill="#a60000"/>
<rect x="515" y="207" width="1" height="12" fill="#ea1616"/>
<rect x="519" y="204" width="1" height="35" fill="#26705a"/>
<rect x="518" y="205" width="3" height="31" fill="#26705a"/>
<rect x="519" y="206" width="1" height="29" fill="#aef0bc"/>
<rect x="523" y="230" width="1" height="28" fill="#26705a"/>
<rect x="522" y="236" width="3" height="14" fill="#26705a"/>
<rect x="523" y="237" width="1" height="12" fill="#aef0bc"/>
<rect x="527" y="243" width="1" height="13" fill="#a60000"/>
<rect x="526" y="249" width="3" height="1" fill="#a60000"/>
<rect x="531" y="243" width="1" height="15" fill="#a60000"/>
<rect x="530" y="249" width="3" height="5" fill="#a60000"/>
<rect x="531" y="250" width="1" height="3" fill="#ea1616"/>
<rect x="535" y="239" width="1" height="11" fill="#a60000"/>
<rect x="534" y="241" width="3" height="9" fill="#a60000"/>
<rect x="535" y="242" width="1" height="7" fill="#ea1616"/>
<rect x="539" y="224" width="1" height="19" fill="#a60000"/>
<rect x="538" y="237" width="3" height="5" fill="#a60000"/>
<rect x="539" y="238" width="1" height="3" fill="#ea1616"/>
<rect x="543" y="220" width="1" height="26" fill="#a60000"/>
<rect x="542" y="221" width="3" height="17" fill="#a60000"/>
<rect x="543" y="222" width="1" height="15" fill="#ea1616"/>
<rect x="547" y="206" width="1" height="25" fill="#a60000"/>
<rect x="546" y="207" width="3" height="15" fill="#a60000"/>
<rect x="547" y="208" width="1" height="13" fill="#ea1616"/>
<rect x="551" y="169" width="1" height="49" fill="#a60000"/>
<rect x="550" y="176" width="3" height="32" fill="#a60000"/>
<rect x="551" y="177" width="1" height="30" fill="#ea1616"/>
<rect x="555" y="166" width="1" height="28" fill="#a60000"/>
<rect x="554" y="175" width="3" height="1" fill="#a60000"/>
<rect x="559" y="170" width="1" height="25" fill="#26705a"/>
<rect x="558" y="176" width="3" height="18" fill="#26705a"/>
<rect x="559" y="177" width="1" height="16" fill="#aef0bc"/>
<rect x="563" y="178" width="1" height="22" fill="#a60000"/>
<rect x="562" y="184" width="3" height="10" fill="#a60000"/>
<rect x="563" y="185" width="1" height="8" fill="#ea1616"/>
<rect x="567" y="146" width="1" height="43" fill="#a60000"/>
<rect x="566" y="153" width="3" height="32" fill="#a60000"/>
<rect x="567" y="154" width="1" height="30" fill="#ea1616"/>
<rect x="571" y="125" width="1" height="30" fill="#a60000"/>
<rect x="570" y="141" width="3" height="13" fill="#a60000"/>
<rect x="571" y="142" width="1" height="11" fill="#ea1616"/>
<rect x="575" y="137" width="1" height="39" fill="#26705a"/>
<rect x="574" y="141" width="3" height="31" fill="#26705a"/>
<rect x="575" y="142" width="1" height="29" fill="#aef0bc"/>
<rect x="579" y="159" width="1" height="18" fill="#a60000"/>
<rect x="578" y="166" width="3" height="10" fill="#a60000"/>
<rect x="579" y="167" width="1" height="8" fill="#ea1616"/>
<rect x="583" y="161" width="1" height="10" fill="#a60000"/>
<rect x="582" y="162" width="3" height="4" fill="#a60000"/>
<rect x="583" y="163" width="1" height="2" fill="#ea1616"/>
<rect x="587" y="160" width="1" height="18" fill="#26705a"/>
<rect x="586" y="164" width="3" height="12" fill="#26705a"/>
<rect x="587" y="165" width="1" height="10" fill="#aef0bc"/>
<rect x="591" y="175" width="1" height="16" fill="#26705a"/>
<rect x="590" y="176" width="3" height="10" fill="#26705a"/>
<rect x="591" y="177" width="1" height="8" fill="#aef0bc"/>
<rect x="595" y="178" width="1" height="32" fill="#a60000"/>
<rect x="594" y="183" width="3" height="4" fill="#a60000"/>
<rect x="595" y="184" width="1" height="2" fill="#ea1616"/>
<rect x="599" y="181" width="1" height="15" fill="#26705a"/>
<rect x="598" y="183" width="3" height="6" fill="#26705a"/>
<rect x="599" y="184" width="1" height="4" fill="#aef0bc"/>
<rect x="603" y="178" width="1" height="20" fill="#a60000"/>
<rect x="602" y="183" width="3" height="4" fill="#a60000"/>
<rect x="603" y="184" width="1" height="2" fill="#ea1616"/>
<rect x="607" y="180" width="1" height="16" fill="#26705a"/>
<rect x="606" y="183" width="3" height="9" fill="#26705a"/>
<rect x="607" y="184" width="1" height="7" fill="#aef0bc"/>
<rect x="611" y="170" width="1" height="27" fill="#a60000"/>
<rect x="610" y="170" width="3" height="22" fill="#a60000"/>
<rect x="611" y="171" width="1" height="20" fill="#ea1616"/>
<rect x="615" y="162" width="1" height="22" fill="#26705a"/>
<rect x="614" y="170" width="3" height="12" fill="#26705a"/>
<rect x="615" y="171" width="1" height="10" fill="#aef0bc"/>
<rect x="619" y="158" width="1" height="33" fill="#26705a"/>
<rect x="618" y="170" width="3" height="19" fill="#26705a"/>
<rect x="619" y="171" width="1" height="17" fill="#aef0bc"/>
<rect x="623" y="178" width="1" height="16" fill="#a60000"/>
<rect x="622" y="179" width="3" height="11" fill="#a60000"/>
<rect x="623" y="180" width="1" height="9" fill="#ea1616"/>
<rect x="627" y="174" width="1" height="17" fill="#26705a"/>
<rect x="626" y="183" width="3" height="6" fill="#26705a"/>
<rect x="627" y="184" width="1" height="4" fill="#aef0bc"/>
<rect x="631" y="183" width="1" height="10" fill="#26705a"/>
<rect x="630" y="187" width="3" height="3" fill="#26705a"/>
<rect x="631" y="188" width="1" height="1" fill="#aef0bc"/>
<rect x="635" y="146" width="1" height="54" fill="#a60000"/>
<rect x="634" y="150" width="3" height="42" fill="#a60000"/>
<rect x="635" y="151" width="1" height="40" fill="#ea1616"/>
<rect x="639" y="110" width="1" height="42" fill="#a60000"/>
<rect x="638" y="137" width="3" height="14" fill="#a60000"/>
<rect x="639" y="138" width="1" height="12" fill="#ea1616"/>
<rect x="643" y="116" width="1" height="42" fill="#a60000"/>
<rect x="642" y="137" width="3" height="12" fill="#a60000"/>
<rect x="643" y="138" width="1" height="10" fill="#ea1616"/>
<rect x="647" y="128" width="1" height="27" fill="#26705a"/>
<rect x="646" y="139" width="3" height="4" fill="#26705a"/>
<rect x="647" y="140" width="1" height="2" fill="#aef0bc"/>
<rect x="651" y="136" width="1" height="14" fill="#a60000"/>
<rect x="650" y="137" width="3" height="12" fill="#a60000"/>
<rect x="651" y="138" width="1" height="10" fill="#ea1616"/>
<rect x="655" y="137" width="1" height="41" fill="#26705a"/>
<rect x="654" y="138" width="3" height="36" fill="#26705a"/>
<rect x="655" y="139" width="1" height="34" fill="#aef0bc"/>
<rect x="659" y="169" width="1" height="63" fill="#26705a"/>
<rect x="658" y="174" width="3" height="52" fill="#26705a"/>
<rect x="659" y="175" width="1" height="50" fill="#aef0bc"/>
<rect x="663" y="197" width="1" height="33" fill="#a60000"/>
<rect x="662" y="198" width="3" height="28" fill="#a60000"/>
<rect x="663" y="199" width="1" height="26" fill="#ea1616"/>
<rect x="667" y="153" width="1" height="52" fill="#a60000"/>
<rect x="666" y="171" width="3" height="27" fill="#a60000"/>
<rect x="667" y="172" width="1" height="25" fill="#ea1616"/>
<rect x="671" y="164" width="1" height="19" fill="#26705a"/>
<rect x="670" y="171" width="3" height="10" fill="#26705a"/>
<rect x="671" y="172" width="1" height="8" fill="#aef0bc"/>
<rect x="675" y="182" width="1" height="12" fill="#26705a"/>
<rect x="674" y="183" width="3" height="9" fill="#26705a"/>
<rect x="675" y="184" width="1" height="7" fill="#aef0bc"/>
<rect x="679" y="184" width="1" height="10" fill="#a60000"/>
<rect x="678" y="185" width="3" height="7" fill="#a60000"/>
<rect x="679" y="186" width="1" height="5" fill="#ea1616"/>
<rect x="683" y="184" width="1" height="25" fill="#26705a"/>
<rect x="682" y="186" width="3" height="20" fill="#26705a"/>
<rect x="683" y="187" width="1" height="18" fill="#aef0bc"/>
<rect x="687" y="122" width="1" height="87" fill="#a60000"/>
<rect x="686" y="135" width="3" height="60" fill="#a60000"/>
<rect x="687" y="136" width="1" height="58" fill="#ea1616"/>
<rect x="691" y="117" width="1" height="61" fill="#26705a"/>
<rect x="690" y="135" width="3" height="41" fill="#26705a"/>
<rect x="691" y="136" width="1" height="39" fill="#aef0bc"/>
<rect x="695" y="168" width="1" height="14" fill="#26705a"/>
<rect x="694" y="176" width="3" height="4" fill="#26705a"/>
<rect x="695" y="177" width="1" height="2" fill="#aef0bc"/>
<rect x="699" y="170" width="1" height="14" fill="#a60000"/>
<rect x="698" y="177" width="3" height="4" fill="#a60000"/>
<rect x="699" y="178" width="1" height="2" fill="#ea1616"/>
<rect x="703" y="174" width="1" height="12" fill="#26705a"/>
<rect x="702" y="176" width="3" height="6" fill="#26705a"/>
<rect x="703" y="177" width="1" height="4" fill="#aef0bc"/>
<rect x="707" y="170" width="1" height="23" fill="#a60000"/>
<rect x="706" y="176" width="3" height="6" fill="#a60000"/>
<rect x="707" y="177" width="1" height="4" fill="#ea1616"/>
<rect x="711" y="171" width="1" height="26" fill="#26705a"/>
<rect x="710" y="176" width="3" height="9" fill="#26705a"/>
<rect x="711" y="177" width="1" height="7" fill="#aef0bc"/>
<rect x="715" y="170" width="1" height="27" fill="#a60000"/>
<rect x="714" y="174" width="3" height="11" fill="#a60000"/>
<rect x="715" y="175" width="1" height="9" fill="#ea1616"/>
<rect x="719" y="164" width="1" height="21" fill="#26705a"/>
<rect x="718" y="175" width="3" height="6" fill="#26705a"/>
<rect x="719" y="176" width="1" height="4" fill="#aef0bc"/>
<rect x="723" y="160" width="1" height="25" fill="#a60000"/>
<rect x="722" y="163" width="3" height="19" fill="#a60000"/>
<rect x="723" y="164" width="1" height="17" fill="#ea1616"/>
<rect x="727" y="158" width="1" height="8" fill="#a60000"/>
<rect x="726" y="162" width="3" height="1" fill="#a60000"/>
<rect x="731" y="137" width="1" height="31" fill="#a60000"/>
<rect x="730" y="138" width="3" height="24" fill="#a60000"/>
<rect x="731" y="139" width="1" height="22" fill="#ea1616"/>
<rect x="735" y="121" width="1" height="18" fill="#a60000"/>
<rect x="734" y="126" width="3" height="12" fill="#a60000"/>
<rect x="735" y="127" width="1" height="10" fill="#ea1616"/>
<rect x="739" y="91" width="1" height="40" fill="#a60000"/>
<rect x="738" y="116" width="3" height="11" fill="#a60000"/>
<rect x="739" y="117" width="1" height="9" fill="#ea1616"/>
<rect x="743" y="105" width="1" height="13" fill="#a60000"/>
<rect x="742" y="108" width="3" height="8" fill="#a60000"/>
<rect x="743" y="109" width="1" height="6" fill="#ea1616"/>
<rect x="747" y="98" width="1" height="18" fill="#a60000"/>
<rect x="746" y="99" width="3" height="16" fill="#a60000"/>
<rect x="747" y="100" width="1" height="14" fill="#ea1616"/>
<rect x="751" y="91" width="1" height="11" fill="#a60000"/>
<rect x="750" y="93" width="3" height="7" fill="#a60000"/>
<rect x="751" y="94" width="1" height="5" fill="#ea1616"/>
<rect x="755" y="82" width="1" height="13" fill="#a60000"/>
<rect x="754" y="84" width="3" height="10" fill="#a60000"/>
<rect x="755" y="85" width="1" height="8" fill="#ea1616"/>
<rect x="759" y="74" width="1" height="13" fill="#a60000"/>
<rect x="758" y="77" width="3" height="8" fill="#a60000"/>
<rect x="759" y="78" width="1" height="6" fill="#ea1616"/>
<rect x="763" y="76" width="1" height="21" fill="#26705a"/>
<rect x="762" y="76" width="3" height="20" fill="#26705a"/>
<rect x="763" y="77" width="1" height="18" fill="#aef0bc"/>
<rect x="767" y="78" width="1" height="19" fill="#a60000"/>
<rect x="766" y="78" width="3" height="18" fill="#a60000"/>
<rect x="767" y="79" width="1" height="16" fill="#ea1616"/>
<rect x="771" y="48" width="1" height="33" fill="#a60000"/>
<rect x="770" y="60" width="3" height="19" fill="#a60000"/>
<rect x="771" y="61" width="1" height="17" fill="#ea1616"/>
<rect x="775" y="42" width="1" height="23" fill="#26705a"/>
<rect x="774" y="45" width="3" height="11" fill="#26705a"/>
<rect x="775" y="46" width="1" height="9" fill="#aef0bc"/>
<rect x="779" y="48" width="1" height="20" fill="#a60000"/>
<rect x="778" y="51" width="3" height="4" fill="#a60000"/>
<rect x="779" y="52" width="1" height="2" fill="#ea1616"/>
<rect x="783" y="51" width="1" height="19" fill="#26705a"/>
<rect x="782" y="52" width="3" height="16" fill="#26705a"/>
<rect x="783" y="53" width="1" height="14" fill="#aef0bc"/>
<rect x="787" y="62" width="1" height="16" fill="#26705a"/>
<rect x="786" y="67" width="3" height="7" fill="#26705a"/>
<rect x="787" y="68" width="1" height="5" fill="#aef0bc"/>
<rect x="791" y="64" width="1" height="12" fill="#a60000"/>
<rect x="790" y="65" width="3" height="10" fill="#a60000"/>
<rect x="791" y="66" width="1" height="8" fill="#ea1616"/>
<rect x="795" y="51" width="1" height="25" fill="#a60000"/>
<rect x="794" y="60" width="3" height="5" fill="#a60000"/>
<rect x="795" y="61" width="1" height="3" fill="#ea1616"/>
<rect x="799" y="55" width="1" height="22" fill="#26705a"/>
<rect x="798" y="60" width="3" height="16" fill="#26705a"/>
<rect x="799" y="61" width="1" height="14" fill="#aef0bc"/>
<rect x="803" y="72" width="1" height="18" fill="#26705a"/>
<rect x="802" y="76" width="3" height="8" fill="#26705a"/>
<rect x="803" y="77" width="1" height="6" fill="#aef0bc"/>
<rect x="807" y="47" width="1" height="38" fill="#a60000"/>
<rect x="806" y="56" width="3" height="27" fill="#a60000"/>
<rect x="807" y="57" width="1" height="25" fill="#ea1616"/>
<rect x="811" y="48" width="1" height="39" fill="#26705a"/>
<rect x="810" y="56" width="3" height="11" fill="#26705a"/>
<rect x="811" y="57" width="1" height="9" fill="#aef0bc"/>
<rect x="815" y="62" width="1" height="16" fill="#a60000"/>
<rect x="814" y="65" width="3" height="9" fill="#a60000"/>
<rect x="815" y="66" width="1" height="7" fill="#ea1616"/>
<rect x="819" y="57" width="1" height="32" fill="#a60000"/>
<rect x="818" y="62" width="3" height="14" fill="#a60000"/>
<rect x="819" y="63" width="1" height="12" fill="#ea1616"/>
<rect x="823" y="62" width="1" height="18" fill="#26705a"/>
<rect x="822" y="62" width="3" height="16" fill="#26705a"/>
<rect x="823" y="63" width="1" height="14" fill="#aef0bc"/>
<rect x="827" y="64" width="1" height="20" fill="#a60000"/>
<rect x="826" y="79" width="3" height="2" fill="#a60000"/>
<rect x="831" y="61" width="1" height="28" fill="#a60000"/>
<rect x="830" y="76" width="3" height="6" fill="#a60000"/>
<rect x="831" y="77" width="1" height="4" fill="#ea1616"/>
<rect x="835" y="60" width="1" height="29" fill="#26705a"/>
<rect x="834" y="76" width="3" height="9" fill="#26705a"/>
<rect x="835" y="77" width="1" height="7" fill="#aef0bc"/>
<rect x="839" y="58" width="1" height="27" fill="#a60000"/>
<rect x="838" y="59" width="3" height="25" fill="#a60000"/>
<rect x="839" y="60" width="1" height="23" fill="#ea1616"/>
<rect x="843" y="62" width="1" height="10" fill="#a60000"/>
<rect x="842" y="62" width="3" height="7" fill="#a60000"/>
<rect x="843" y="63" width="1" height="5" fill="#ea1616"/>
<rect x="847" y="56" width="1" height="16" fill="#a60000"/>
<rect x="846" y="58" width="3" height="8" fill="#a60000"/>
<rect x="847" y="59" width="1" height="6" fill="#ea1616"/>
<rect x="851" y="52" width="1" height="20" fill="#26705a"/>
<rect x="850" y="58" width="3" height="2" fill="#26705a"/>
<rect x="855" y="46" width="1" height="36" fill="#26705a"/>
<rect x="854" y="57" width="3" height="25" fill="#26705a"/>
<rect x="855" y="58" width="1" height="23" fill="#aef0bc"/>
<rect x="859" y="77" width="1" height="38" fill="#26705a"/>
<rect x="858" y="82" width="3" height="16" fill="#26705a"/>
<rect x="859" y="83" width="1" height="14" fill="#aef0bc"/>
<rect x="863" y="93" width="1" height="12" fill="#26705a"/>
<rect x="862" y="98" width="3" height="2" fill="#26705a"/>
<rect x="867" y="98" width="1" height="15" fill="#a60000"/>
<rect x="866" y="104" width="3" height="8" fill="#a60000"/>
<rect x="867" y="105" width="1" height="6" fill="#ea1616"/>
<rect x="871" y="97" width="1" height="20" fill="#a60000"/>
<rect x="870" y="101" width="3" height="6" fill="#a60000"/>
<rect x="871" y="102" width="1" height="4" fill="#ea1616"/>
<rect x="875" y="102" width="1" height="25" fill="#26705a"/>
<rect x="874" y="107" width="3" height="12" fill="#26705a"/>
<rect x="875" y="108" width="1" height="10" fill="#aef0bc"/>
<rect x="879" y="94" width="1" height="36" fill="#a60000"/>
<rect x="878" y="111" width="3" height="14" fill="#a60000"/>
<rect x="879" y="112" width="1" height="12" fill="#ea1616"/>
<rect x="883" y="107" width="1" height="51" fill="#26705a"/>
<rect x="882" y="111" width="3" height="6" fill="#26705a"/>
<rect x="883" y="112" width="1" height="4" fill="#aef0bc"/>
<rect x="887" y="89" width="1" height="30" fill="#a60000"/>
<rect x="886" y="95" width="3" height="19" fill="#a60000"/>
<rect x="887" y="96" width="1" height="17" fill="#ea1616"/>
<rect x="891" y="81" width="1" height="29" fill="#a60000"/>
<rect x="890" y="82" width="3" height="24" fill="#a60000"/>
<rect x="891" y="83" width="1" height="22" fill="#ea1616"/>
<rect x="895" y="79" width="1" height="20" fill="#26705a"/>
<rect x="894" y="82" width="3" height="16" fill="#26705a"/>
<rect x="895" y="83" width="1" height="14" fill="#aef0bc"/>
<rect x="899" y="96" width="1" height="21" fill="#26705a"/>
<rect x="898" y="98" width="3" height="13" fill="#26705a"/>
<rect x="899" y="99" width="1" height="11" fill="#aef0bc"/>
<rect x="903" y="107" width="1" height="20" fill="#a60000"/>
<rect x="902" y="108" width="3" height="4" fill="#a60000"/>
<rect x="903" y="109" width="1" height="2" fill="#ea1616"/>
<rect x="907" y="69" width="1" height="44" fill="#a60000"/>
<rect x="906" y="104" width="3" height="6" fill="#a60000"/>
<rect x="907" y="105" width="1" height="4" fill="#ea1616"/>
<rect x="911" y="99" width="1" height="21" fill="#26705a"/>
<rect x="910" y="100" width="3" height="6" fill="#26705a"/>
<rect x="911" y="101" width="1" height="4" fill="#aef0bc"/>
<rect x="915" y="110" width="1" height="38" fill="#26705a"/>
<rect x="914" y="120" width="3" height="5" fill="#26705a"/>
<rect x="915" y="121" width="1" height="3" fill="#aef0bc"/>
<rect x="919" y="122" width="1" height="26" fill="#26705a"/>
<rect x="918" y="124" width="3" height="10" fill="#26705a"/>
<rect x="919" y="125" width="1" height="8" fill="#aef0bc"/>
<rect x="923" y="119" width="1" height="25" fill="#a60000"/>
<rect x="922" y="121" width="3" height="13" fill="#a60000"/>
<rect x="923" y="122" width="1" height="11" fill="#ea1616"/>
<rect x="927" y="97" width="1" height="41" fill="#a60000"/>
<rect x="926" y="112" width="3" height="11" fill="#a60000"/>
<rect x="927" y="113" width="1" height="9" fill="#ea1616"/>
<rect x="931" y="40" width="1" height="75" fill="#a60000"/>
<rect x="930" y="41" width="3" height="73" fill="#a60000"/>
<rect x="931" y="42" width="1" height="71" fill="#ea1616"/>
<rect x="935" y="35" width="1" height="11" fill="#a60000"/>
<rect x="934" y="38" width="3" height="4" fill="#a60000"/>
<rect x="935" y="39" width="1" height="2" fill="#ea1616"/>
<rect x="939" y="34" width="1" height="13" fill="#26705a"/>
<rect x="938" y="38" width="3" height="5" fill="#26705a"/>
<rect x="939" y="39" width="1" height="3" fill="#aef0bc"/>
<rect x="943" y="30" width="1" height="16" fill="#a60000"/>
<rect x="942" y="39" width="3" height="4" fill="#a60000"/>
<rect x="943" y="40" width="1" height="2" fill="#ea1616"/>
<rect x="947" y="11" width="1" height="35" fill="#a60000"/>
<rect x="946" y="38" width="3" height="6" fill="#a60000"/>
<rect x="947" y="39" width="1" height="4" fill="#ea1616"/>
<rect x="951" y="36" width="1" height="30" fill="#26705a"/>
<rect x="950" y="40" width="3" height="10" fill="#26705a"/>
<rect x="951" y="41" width="1" height="8" fill="#aef0bc"/>
<rect x="955" y="40" width="1" height="39" fill="#26705a"/>
<rect x="954" y="50" width="3" height="13" fill="#26705a"/>
<rect x="955" y="51" width="1" height="11" fill="#aef0bc"/>
<rect x="959" y="59" width="1" height="19" fill="#26705a"/>
<rect x="958" y="60" width="3" height="10" fill="#26705a"/>
<rect x="959" y="61" width="1" height="8" fill="#aef0bc"/>
<rect x="963" y="62" width="1" height="19" fill="#a60000"/>
<rect x="962" y="66" width="3" height="8" fill="#a60000"/>
<rect x="963" y="67" width="1" height="6" fill="#ea1616"/>
<rect x="967" y="57" width="1" height="12" fill="#a60000"/>
<rect x="966" y="64" width="3" height="3" fill="#a60000"/>
<rect x="967" y="65" width="1" height="1" fill="#ea1616"/>
<rect x="971" y="57" width="1" height="27" fill="#26705a"/>
<rect x="970" y="64" width="3" height="14" fill="#26705a"/>
<rect x="971" y="65" width="1" height="12" fill="#aef0bc"/>
<rect x="975" y="65" width="1" height="23" fill="#a60000"/>
<rect x="974" y="76" width="3" height="2" fill="#a60000"/>
<rect x="979" y="70" width="1" height="30" fill="#26705a"/>
<rect x="978" y="77" width="3" height="19" fill="#26705a"/>
<rect x="979" y="78" width="1" height="17" fill="#aef0bc"/>
<rect x="983" y="94" width="1" height="17" fill="#26705a"/>
<rect x="982" y="95" width="3" height="15" fill="#26705a"/>
<rect x="983" y="96" width="1" height="13" fill="#aef0bc"/>
<rect x="987" y="105" width="1" height="11" fill="#a60000"/>
<rect x="986" y="110" width="3" height="2" fill="#a60000"/>
<rect x="991" y="100" width="1" height="16" fill="#a60000"/>
<rect x="990" y="108" width="3" height="3" fill="#a60000"/>
<rect x="991" y="109" width="1" height="1" fill="#ea1616"/>
<rect x="995" y="105" width="1" height="26" fill="#26705a"/>
<rect x="994" y="108" width="3" height="19" fill="#26705a"/>
<rect x="995" y="109" width="1" height="17" fill="#aef0bc"/>
<rect x="999" y="116" width="1" height="30" fill="#26705a"/>
<rect x="998" y="126" width="3" height="14" fill="#26705a"/>
<rect x="999" y="127" width="1" height="12" fill="#aef0bc"/>
<rect x="1003" y="120" width="1" height="25" fill="#a60000"/>
<rect x="1002" y="128" width="3" height="12" fill="#a60000"/>
<rect x="1003" y="129" width="1" height="10" fill="#ea1616"/>
<rect x="1007" y="125" width="1" height="17" fill="#a60000"/>
<rect x="1006" y="128" width="3" height="5" fill="#a60000"/>
<rect x="1007" y="129" width="1" height="3" fill="#ea1616"/>
<rect x="1011" y="125" width="1" height="21" fill="#26705a"/>
<rect x="1010" y="128" width="3" height="10" fill="#26705a"/>
<rect x="1011" y="129" width="1" height="8" fill="#aef0bc"/>
<rect x="1015" y="132" width="1" height="20" fill="#26705a"/>
<rect x="1014" y="137" width="3" height="9" fill="#26705a"/>
<rect x="1015" y="138" width="1" height="7" fill="#aef0bc"/>
<rect x="1019" y="130" width="1" height="20" fill="#a60000"/>
<rect x="1018" y="140" width="3" height="6" fill="#a60000"/>
<rect x="1019" y="141" width="1" height="4" fill="#ea1616"/>
<rect x="1023" y="114" width="1" height="33" fill="#a60000"/>
<rect x="1022" y="128" width="3" height="13" fill="#a60000"/>
<rect x="1023" y="129" width="1" height="11" fill="#ea1616"/>
<rect x="1027" y="121" width="1" height="31" fill="#26705a"/>
<rect x="1026" y="128" width="3" height="19" fill="#26705a"/>
<rect x="1027" y="129" width="1" height="17" fill="#aef0bc"/>
<rect x="1031" y="138" width="1" height="18" fill="#26705a"/>
<rect x="1030" y="146" width="3" height="6" fill="#26705a"/>
<rect x="1031" y="147" width="1" height="4" fill="#aef0bc"/>
<rect x="1035" y="123" width="1" height="31" fill="#a60000"/>
<rect x="1034" y="135" width="3" height="19" fill="#a60000"/>
<rect x="1035" y="136" width="1" height="17" fill="#ea1616"/>
<rect x="1039" y="129" width="1" height="12" fill="#26705a"/>
<rect x="1038" y="135" width="3" height="5" fill="#26705a"/>
<rect x="1039" y="136" width="1" height="3" fill="#aef0bc"/>
</g>
<polyline points="0,370 15.3,344.8 67,438.5 91.4,322.5 199.2,479 375.2,269.8 403,354.3 451.4,172.6 523,258.8 639.5,110.8 659.6,236.7 775.2,41.5 834.4,92 855.3,45 883,158.5 947.3,11.3 1037,170" fill="none" stroke="#e01014" stroke-width="2" stroke-linejoin="miter" clip-path="url(#cm)"/>
<g shape-rendering="crispEdges">
<rect x="0" y="81" width="1104" height="2" fill="#cc0c0c"/>
<rect x="0" y="96" width="1104" height="1" fill="#c62020"/>
<rect x="0" y="140" width="1104" height="1" fill="#5c5cd2"/>
<rect x="0" y="180" width="1104" height="1" fill="#c62020"/>
<rect x="0" y="194" width="1104" height="2" fill="#dc0a0a"/>
</g>
<g fill="#fb4a4e" fill-opacity="0.92">
<path d="M669 239.8 Q717 157.6 765 75.4 L771 78.6 L776 41.7 L746 65 L753.6 69.1 Q710.3 153.9 667 238.8 Z"/>
<path d="M786.8 45.6 Q822.5 89.9 857.8 134.5 L853.6 134.8 L884 156.5 L880 118.5 L865.9 127.4 Q826.9 86 788.2 44.4 Z"/>
<path d="M896 152.3 Q921.2 98.7 942.1 43.6 L950.5 47 L948 12 L926.7 37.5 L931.6 39.6 Q916.9 97.1 894.4 151.7 Z"/>
<path d="M956.6 15.2 Q989.2 88.3 1021.4 161.7 L1015.2 164 L1040 187.6 L1036 155.3 L1031.5 156.8 Q994.6 85.7 958.2 14.4 Z"/>
<path d="M1043.5 183.6 Q1054 158.4 1064.6 133.2 L1071.4 135.3 L1069.7 101 L1047 127.5 L1054.5 129.8 Q1047.8 156.3 1041.1 182.8 Z"/>
</g>
<g shape-rendering="crispEdges">
<rect x="0" y="555" width="1104" height="1" fill="#d42a2a"/>
<rect x="0" y="637" width="1104" height="1" fill="#2222c8"/>
<path d="M0 573.5H1104" stroke="#c01818" stroke-width="1" stroke-dasharray="9 3 3 3" fill="none"/>
<path d="M0 596.5H1104" stroke="#6e6e6e" stroke-width="1" stroke-dasharray="3 3" fill="none"/>
<path d="M0 619.5H1104" stroke="#1a1ab4" stroke-width="1" stroke-dasharray="9 3 3 3" fill="none"/>
</g>
<g clip-path="url(#cr)" fill="none" stroke-width="1" stroke-linejoin="round" shape-rendering="crispEdges">
<polyline points="0,587.9 3.2,592.8 7.5,591.2 15.4,587.1 19.5,590.3 23.5,586.8 27.6,589.5 31.7,591.2 35.7,596 39.8,594.4 43.5,589.5 47.6,592 51.6,596 55.5,597.6 59.6,598.5 63.7,601.7 67.6,603.3 70.6,598.8 75.5,600.9 79.6,600.9 83.6,594.4 87.7,588.7 91.8,584.7 95.5,583.8 99.1,592 103.4,595.2 108,594.4 115.6,595.2 119.7,592.3 123.4,593.6 127.5,596 131.5,592.8 135.6,591.2 139.7,591.6 143.7,594.4 147.8,596.8 151.8,596 155.6,593.6 159.6,597.6 163.7,596 167.3,596.8 171.3,599.3 175.4,600.4 179.4,600.1 183.5,608.2 186,609.8 190.1,615.5 194.9,617.1 199.3,617.9 202.2,614.7 206.3,609.8 211.5,605 215.6,606.9 219.6,607.9 223.7,605.3 227.4,606.3 231.5,609 235.5,603.3 239.6,600.1 243.6,600.9 247.7,599.8 251.8,598.8 255,598.1 259.9,599.8 263.9,596.8 267.2,596.5 271.3,596.8 275.3,592.8 279.4,587.1 283.4,579.8 287.5,579 291.6,582.5 295.6,579.8 299.7,581.9 304.2,583.5 307.8,577.4 311.9,574.1 315.9,572.5 319.2,571.7 322.4,574.9 327.3,578.6 330.5,576.5 334.6,577.7 338.6,579 342.7,579.3 346.8,583.8 351.3,586.3 354.9,583.5 358.9,580.6 363,582.5 367.1,583.8 371.1,586.3 374.9,579.8 379.3,581.9 383.4,590.3 387.4,591.6 391.5,590 395.5,592.8 399.6,596 403.7,596.5 407.7,594.4 411.8,592 415.5,585.5 419.6,579.8 423.6,574.4 427.5,570.9 431.6,569.2 434.5,570 439.4,573.3 443.5,572.2 447.5,571.7 451.6,570 454.8,575.7 459.7,579.8 463.8,579 467.5,577 471.1,579 475.4,580.3 480,581.9 483.7,583.5 487.6,582.5 491.7,584.7 495.4,586.3 499.5,586.8 503.5,586.3 507.6,586.3 511.7,584.7 515.2,583 519.8,588.7 523.8,593.6 527.9,595.2 531.6,596 535.7,593.6 539.3,591.2 543.3,590.3 547.4,585.5 551.4,579.8 555.5,577 558,576.5 563.4,580.6 567.4,576.5 571.3,572.5 575.4,578.6 579.4,582.5 583.5,582.5 587.6,585.1 591.6,587.4 595.7,589.5 599.4,589.2 603.5,589.2 607.5,589.5 611.6,587.1 615.6,583.8 619.7,585.1 623.4,589.5 627.5,589.5 631.6,591.2 635.5,585.5 639.5,577.7 643.6,579 647.6,580.9 651.5,581.4 655.4,587.1 659.5,597.6 663.6,600.9 667.1,594.4 671.2,592.8 675.1,594.4 679.1,596 683.4,597.6 687.4,591.2 691.3,587.9 695.4,592.8 699.4,593.9 703.5,594.4 707.4,595.5 711.5,596.5 715.5,596.5 719.4,593.3 723.5,592 727.5,589.5 731.4,587.1 735.5,582.2 739.4,579 743.5,577.7 747.6,576.5 751.5,573.3 755.5,571.7 759.4,571.2 763.5,577.7 767.5,575.4 771.4,574.1 775.5,573.3 779.6,574.9 783.5,575.7 787.5,579 791.4,579.3 795.5,577.7 799.5,580.6 803.4,583.5 807.5,581.4 811.6,582.5 815.5,583.8 819.5,584.7 823.6,584.7 827.5,586.3 831.5,587.1 835.4,585.5 839.5,584.2 843.5,583 847.4,581.9 851.5,581.4 855.4,582.5 859.5,596 863.5,597.2 867.4,598.8 871.5,599.3 875.5,603.3 879.4,600.9 883.5,606.9 887.6,597.6 891.5,595.2 895.5,592.8 899.6,597.6 903.5,601.4 907.5,593.6 911.4,597.6 914,598.5 915.6,600.1 919.5,604.1 923.4,603.3 927.5,597.2 931.5,587.1 935.4,582.5 939.5,583 943.6,580.6 947.5,580.9 949.7,586.3 951.5,587.9 955.6,591.6 959.5,592.3 963.5,592.8 967.4,591.2 971.5,593.6 975.5,594.9 979.4,596.8 983.5,599.8 987.6,601.7 991.5,602 995.5,604.1 999.6,606.3 1003.5,606.6 1007.5,606.3 1011.4,606.6 1015.5,607.4 1019.6,609.5 1023.5,608.2 1027.5,609.8 1031.6,612.3 1035.5,609.8 1039.5,604.1" stroke="#d81e1e" stroke-width="1"/>
<polyline points="0,579 3.2,586.3 7.5,583.8 15.4,578.2 19.5,582.5 23.5,578.2 27.6,583 31.7,584.7 35.7,594.4 39.8,592 43.5,584.7 47.6,588.7 51.6,596 55.5,598.5 59.6,600.1 63.7,604.1 67.6,606.3 70.6,599.3 75.5,602.5 79.6,601.7 83.6,592 87.7,583.8 91.8,579 95.5,578.2 99.1,589.5 103.4,596 108,595.2 115.6,596 119.7,591.2 123.4,593.3 127.5,596.8 131.5,592 135.6,588.2 139.7,588.7 143.7,594.4 147.8,598.5 151.8,596 155.6,592.8 159.6,599.3 163.7,596.8 167.3,598.5 171.3,601.7 175.4,602.5 179.4,602.5 183.5,613.1 186,617.1 190.1,623.6 194.9,626.1 199.3,627.4 202.2,621.2 206.3,613.1 211.5,604.1 215.6,608.2 219.6,609.5 223.7,605 227.4,606.3 231.5,610.6 235.5,602.5 239.6,597.6 243.6,599.3 247.7,597.6 251.8,596.5 255,595.2 259.9,598.8 263.9,593.6 267.2,593.3 271.3,594.4 275.3,588.7 279.4,581.4 283.4,571.7 287.5,570.5 291.6,574.9 295.6,573.3 299.7,576.5 304.2,579 307.8,571.7 311.9,567.6 315.9,565.2 319.2,564 322.4,572.5 327.3,578.2 330.5,574.9 334.6,577 338.6,578.2 342.7,578.2 346.8,584.7 351.3,587.1 354.9,583 358.9,579.8 363,583 367.1,584.7 371.1,587.9 374.9,580.6 379.3,582.2 383.4,594.4 387.4,596 391.5,593.6 395.5,596.8 399.6,601.4 403.7,601.4 407.7,597.6 411.8,592.8 415.5,583 419.6,575.7 423.6,569.2 427.5,565.2 431.6,563.5 434.5,564 439.4,567.9 443.5,567.3 447.5,568.9 451.6,565.7 454.8,576.5 459.7,581.4 463.8,579.8 467.5,577 471.1,579.8 475.4,581.4 480,583.8 483.7,586.3 487.6,584.2 491.7,587.1 495.4,590.3 499.5,590.7 503.5,589.5 507.6,590 511.7,586.3 515.2,583 519.8,592 523.8,599.3 527.9,601.7 531.6,603.3 535.7,599.3 539.3,596 543.3,594.4 547.4,587.1 551.4,578.2 555.5,573.3 558,573.3 563.4,579 567.4,573.3 571.3,567.6 575.4,577.4 579.4,582.5 583.5,582.2 587.6,586.3 591.6,590.3 595.7,593.9 599.4,592.3 603.5,592.8 607.5,593.3 611.6,588.7 615.6,583.5 619.7,585.5 623.4,592.8 627.5,592 631.6,594.4 635.5,585.5 639.5,574.4 643.6,576.5 647.6,579 651.5,579.8 655.4,588.7 659.5,604.6 663.6,607.4 667.1,596.8 671.2,595.2 675.1,597.6 679.1,599.3 683.4,602 687.4,592 691.3,587.1 695.4,594.4 699.4,596 703.5,596.8 707.4,597.6 711.5,598.8 715.5,598.5 719.4,593.6 723.5,591.6 727.5,588.7 731.4,584.7 735.5,578.2 739.4,573.3 743.5,571.7 747.6,570 751.5,566 755.5,565.2 759.4,564 763.5,574.4 767.5,571.7 771.4,569.2 775.5,566.8 779.6,570.9 783.5,572.5 787.5,579 791.4,579.8 795.5,576.5 799.5,580.6 803.4,586.3 807.5,581.4 811.6,583 815.5,585.5 819.5,587.1 823.6,586.8 827.5,589.5 831.5,590.7 835.4,587.1 839.5,584.7 843.5,582.5 847.4,580.6 851.5,579.8 855.4,582.5 859.5,605 863.5,606.6 867.4,609 871.5,609.8 875.5,615.5 879.4,609 883.5,617.6 887.6,599.3 891.5,595.2 895.5,591.6 899.6,599.3 903.5,604.6 907.5,592.8 911.4,599.3 914,602.5 915.6,604.1 919.5,609 923.4,607.4 927.5,597.6 931.5,583.8 935.4,578.2 939.5,579 943.6,576.5 947.5,576.5 949.7,585.5 951.5,587.9 955.6,591.6 959.5,593.6 963.5,594.4 967.4,591.6 971.5,595.2 975.5,597.6 979.4,600.9 983.5,605 987.6,606.6 991.5,606.3 995.5,609.8 999.6,613.4 1003.5,613.4 1007.5,613.4 1011.4,613.4 1015.5,613.9 1019.6,617.6 1023.5,614.4 1027.5,616.6 1031.6,620.4 1035.5,615.5 1039.5,605" stroke="#1c1cc4" stroke-width="1"/>
<polyline points="0,563.5 3.2,574.9 7.5,573.3 15.4,566 19.5,575.7 23.5,569.7 27.6,579 31.7,581.4 35.7,600.1 39.8,594.4 43.5,583 47.6,590.3 51.6,602.5 55.5,606.6 59.6,608.2 63.7,617.9 67.6,620.7 70.6,600.4 75.5,608.2 79.6,606.6 83.6,593.6 87.7,576.5 91.8,567.6 95.5,565.5 99.1,588.7 103.4,599.3 108,596.8 112.1,597.6 115.6,597.6 119.7,590.7 123.4,593.6 127.5,600.9 131.5,592.8 135.6,583.8 139.7,584.7 143.7,595.2 147.8,603.3 151.8,597.6 155.6,592 159.6,606.6 163.7,598.8 167.3,604.1 171.3,611.5 175.4,613.1 179.4,614.7 183.5,627.7 186,635 190.1,641.5 194.9,643.1 199.3,644.3 202.2,630.1 206.3,616.3 211.5,596.8 215.6,607.4 219.6,609 223.7,600.6 227.4,604.1 231.5,612.8 235.5,593.6 239.6,586.3 243.6,592.8 247.7,589.5 251.8,587.1 255,585.5 259.9,598.5 263.9,583.8 267.2,582.5 271.3,587.1 275.3,577.4 279.4,567.6 283.4,554.6 287.5,553.8 291.6,566 295.6,562.7 299.7,568.4 304.2,576.5 307.8,562.7 311.9,557.1 315.9,555.4 319.2,553.8 322.4,571.7 327.3,579 330.5,573.3 334.6,576.5 338.6,577.7 342.7,577.4 346.8,594.4 351.3,600.1 354.9,587.1 358.9,579.8 363,585.5 367.1,592 371.1,599.3 374.9,579.8 379.3,581.4 383.4,604.1 387.4,609.8 391.5,603.3 395.5,608.2 399.6,616 403.7,616.3 407.7,607.4 411.8,596 415.5,579 419.6,566 423.6,557.9 427.5,553.3 431.6,551 434.5,552.2 439.4,561.9 443.5,559.5 447.5,563.5 451.6,557.1 454.8,578.2 459.7,588.4 463.8,583 467.5,576.5 471.1,583.5 475.4,586.3 480,592 483.7,596.8 487.6,588.4 491.7,595.2 495.4,602.5 499.5,602 503.5,597.6 507.6,599.8 511.7,590.3 515.2,582.5 519.8,600.9 523.8,616.3 527.9,619.6 531.6,620.7 535.7,609.8 539.3,596.8 543.3,595.2 547.4,582.2 551.4,566.8 555.5,560.3 558,564.4 563.4,574.9 567.4,564.4 571.3,556.2 575.4,574.9 579.4,582.5 583.5,582.2 587.6,588.7 591.6,597.6 595.7,605.3 599.4,600.4 603.5,602.5 607.5,601.7 611.6,592 615.6,582.5 619.7,586.3 623.4,600.1 627.5,597.2 631.6,601.7 635.5,583.8 639.5,564 643.6,570 647.6,574.9 651.5,575.7 655.4,592 659.5,619.2 663.6,622 667.1,597.6 671.2,595.2 675.1,600.1 679.1,602.5 683.4,607.9 687.4,588.7 691.3,581.4 695.4,595.2 699.4,597.6 703.5,598.8 707.4,600.1 711.5,603 715.5,602.5 719.4,592 723.5,588.7 727.5,580.6 731.4,572.5 735.5,562.7 739.4,556.2 743.5,555.4 747.6,554.3 751.5,549.4 755.5,547.8 759.4,547.3 763.5,573.3 767.5,567.6 771.4,563.5 775.5,560.3 779.6,567.6 783.5,570.9 787.5,582.5 791.4,584.2 795.5,578.2 799.5,587.1 803.4,600.1 807.5,586.3 811.6,589.5 815.5,594.4 819.5,596 823.6,595.2 827.5,603 831.5,604.1 835.4,594.4 839.5,588.4 843.5,582.2 847.4,576.5 851.5,573.8 855.4,580.6 859.5,624.4 863.5,625.3 867.4,628.5 871.5,629 875.5,635 879.4,620.4 883.5,630.9 887.6,597.6 891.5,593.6 895.5,588.7 899.6,600.9 903.5,609.8 907.5,590.3 911.4,600.9 914,605 915.6,608.2 919.5,614.4 923.4,611.5 927.5,597.6 931.5,574.9 935.4,567.9 939.5,568.9 943.6,564.4 947.5,565.2 949.7,582.5 951.5,587.1 955.6,592 959.5,596.8 963.5,599.3 967.4,592 971.5,599.3 975.5,604.1 979.4,609.8 983.5,619.2 987.6,622 991.5,619.2 995.5,625.3 999.6,630.1 1003.5,630.1 1007.5,629 1011.4,629.6 1015.5,630.6 1019.6,636.6 1023.5,627.7 1027.5,631.8 1031.6,637.1 1035.5,626.1 1039.5,602" stroke="#101010" stroke-width="1"/>
</g>
<g clip-path="url(#cd)" shape-rendering="crispEdges">
<rect x="-2" y="674" width="3" height="50" fill="#2a8ff0"/>
<rect x="2" y="678" width="3" height="46" fill="#2a8ff0"/>
<rect x="6" y="683" width="3" height="41" fill="#2a8ff0"/>
<rect x="10" y="683" width="3" height="41" fill="#2a8ff0"/>
<rect x="14" y="687" width="3" height="37" fill="#2a8ff0"/>
<rect x="18" y="690" width="3" height="34" fill="#2a8ff0"/>
<rect x="22" y="695" width="3" height="29" fill="#2a8ff0"/>
<rect x="26" y="701" width="3" height="23" fill="#2a8ff0"/>
<rect x="30" y="707" width="3" height="17" fill="#2a8ff0"/>
<rect x="34" y="721" width="3" height="3" fill="#2a8ff0"/>
<rect x="38" y="721" width="3" height="3" fill="#2a8ff0"/>
<rect x="42" y="721" width="3" height="3" fill="#2a8ff0"/>
<rect x="46" y="724" width="3" height="2" fill="#fba785"/>
<rect x="50" y="724" width="3" height="8" fill="#fba785"/>
<rect x="54" y="724" width="3" height="14" fill="#fba785"/>
<rect x="58" y="724" width="3" height="22" fill="#fba785"/>
<rect x="62" y="724" width="3" height="28" fill="#fba785"/>
<rect x="66" y="724" width="3" height="23" fill="#fba785"/>
<rect x="70" y="724" width="3" height="20" fill="#fba785"/>
<rect x="74" y="724" width="3" height="20" fill="#fba785"/>
<rect x="78" y="724" width="3" height="20" fill="#fba785"/>
<rect x="82" y="724" width="3" height="9" fill="#fba785"/>
<rect x="90" y="709" width="3" height="15" fill="#2a8ff0"/>
<rect x="94" y="704" width="3" height="20" fill="#2a8ff0"/>
<rect x="98" y="712" width="3" height="12" fill="#2a8ff0"/>
<rect x="102" y="719" width="3" height="5" fill="#2a8ff0"/>
<rect x="106" y="722" width="3" height="2" fill="#2a8ff0"/>
<rect x="110" y="722" width="3" height="2" fill="#2a8ff0"/>
<rect x="114" y="722" width="3" height="2" fill="#2a8ff0"/>
<rect x="118" y="720" width="3" height="4" fill="#2a8ff0"/>
<rect x="122" y="724" width="3" height="1" fill="#fba785"/>
<rect x="126" y="724" width="3" height="6" fill="#fba785"/>
<rect x="130" y="724" width="3" height="4" fill="#fba785"/>
<rect x="142" y="724" width="3" height="3" fill="#fba785"/>
<rect x="146" y="724" width="3" height="6" fill="#fba785"/>
<rect x="150" y="724" width="3" height="6" fill="#fba785"/>
<rect x="154" y="724" width="3" height="7" fill="#fba785"/>
<rect x="158" y="724" width="3" height="8" fill="#fba785"/>
<rect x="162" y="724" width="3" height="10" fill="#fba785"/>
<rect x="166" y="724" width="3" height="10" fill="#fba785"/>
<rect x="170" y="724" width="3" height="14" fill="#fba785"/>
<rect x="174" y="724" width="3" height="11" fill="#fba785"/>
<rect x="178" y="724" width="3" height="14" fill="#fba785"/>
<rect x="182" y="724" width="3" height="16" fill="#fba785"/>
<rect x="186" y="724" width="3" height="28" fill="#fba785"/>
<rect x="190" y="724" width="3" height="37" fill="#fba785"/>
<rect x="194" y="724" width="3" height="43" fill="#fba785"/>
<rect x="198" y="724" width="3" height="43" fill="#fba785"/>
<rect x="202" y="724" width="3" height="33" fill="#fba785"/>
<rect x="206" y="724" width="3" height="24" fill="#fba785"/>
<rect x="210" y="724" width="3" height="19" fill="#fba785"/>
<rect x="214" y="724" width="3" height="14" fill="#fba785"/>
<rect x="218" y="724" width="3" height="8" fill="#fba785"/>
<rect x="222" y="724" width="3" height="2" fill="#fba785"/>
<rect x="226" y="724" width="3" height="3" fill="#fba785"/>
<rect x="230" y="722" width="3" height="2" fill="#2a8ff0"/>
<rect x="234" y="714" width="3" height="10" fill="#2a8ff0"/>
<rect x="238" y="709" width="3" height="15" fill="#2a8ff0"/>
<rect x="242" y="709" width="3" height="15" fill="#2a8ff0"/>
<rect x="246" y="707" width="3" height="17" fill="#2a8ff0"/>
<rect x="250" y="709" width="3" height="15" fill="#2a8ff0"/>
<rect x="254" y="707" width="3" height="17" fill="#2a8ff0"/>
<rect x="258" y="707" width="3" height="17" fill="#2a8ff0"/>
<rect x="262" y="707" width="3" height="17" fill="#2a8ff0"/>
<rect x="266" y="707" width="3" height="17" fill="#2a8ff0"/>
<rect x="270" y="709" width="3" height="15" fill="#2a8ff0"/>
<rect x="274" y="702" width="3" height="22" fill="#2a8ff0"/>
<rect x="278" y="696" width="3" height="28" fill="#2a8ff0"/>
<rect x="282" y="682" width="3" height="42" fill="#2a8ff0"/>
<rect x="286" y="683" width="3" height="41" fill="#2a8ff0"/>
<rect x="290" y="684" width="3" height="40" fill="#2a8ff0"/>
<rect x="294" y="683" width="3" height="41" fill="#2a8ff0"/>
<rect x="298" y="689" width="3" height="35" fill="#2a8ff0"/>
<rect x="302" y="692" width="3" height="32" fill="#2a8ff0"/>
<rect x="306" y="688" width="3" height="36" fill="#2a8ff0"/>
<rect x="310" y="683" width="3" height="41" fill="#2a8ff0"/>
<rect x="314" y="680" width="3" height="44" fill="#2a8ff0"/>
<rect x="318" y="684" width="3" height="40" fill="#2a8ff0"/>
<rect x="322" y="695" width="3" height="29" fill="#2a8ff0"/>
<rect x="326" y="700" width="3" height="24" fill="#2a8ff0"/>
<rect x="330" y="707" width="3" height="17" fill="#2a8ff0"/>
<rect x="334" y="712" width="3" height="12" fill="#2a8ff0"/>
<rect x="338" y="718" width="3" height="6" fill="#2a8ff0"/>
<rect x="342" y="723" width="3" height="1" fill="#2a8ff0"/>
<rect x="346" y="724" width="3" height="11" fill="#fba785"/>
<rect x="350" y="724" width="3" height="13" fill="#fba785"/>
<rect x="354" y="724" width="3" height="13" fill="#fba785"/>
<rect x="358" y="724" width="3" height="13" fill="#fba785"/>
<rect x="362" y="724" width="3" height="13" fill="#fba785"/>
<rect x="366" y="724" width="3" height="17" fill="#fba785"/>
<rect x="370" y="724" width="3" height="16" fill="#fba785"/>
<rect x="374" y="724" width="3" height="13" fill="#fba785"/>
<rect x="378" y="724" width="3" height="14" fill="#fba785"/>
<rect x="382" y="724" width="3" height="20" fill="#fba785"/>
<rect x="386" y="724" width="3" height="23" fill="#fba785"/>
<rect x="390" y="724" width="3" height="25" fill="#fba785"/>
<rect x="394" y="724" width="3" height="25" fill="#fba785"/>
<rect x="398" y="724" width="3" height="27" fill="#fba785"/>
<rect x="402" y="724" width="3" height="28" fill="#fba785"/>
<rect x="406" y="724" width="3" height="25" fill="#fba785"/>
<rect x="410" y="724" width="3" height="19" fill="#fba785"/>
<rect x="414" y="724" width="3" height="10" fill="#fba785"/>
<rect x="418" y="721" width="3" height="3" fill="#2a8ff0"/>
<rect x="422" y="705" width="3" height="19" fill="#2a8ff0"/>
<rect x="426" y="691" width="3" height="33" fill="#2a8ff0"/>
<rect x="430" y="680" width="3" height="44" fill="#2a8ff0"/>
<rect x="434" y="679" width="3" height="45" fill="#2a8ff0"/>
<rect x="438" y="684" width="3" height="40" fill="#2a8ff0"/>
<rect x="442" y="685" width="3" height="39" fill="#2a8ff0"/>
<rect x="446" y="691" width="3" height="33" fill="#2a8ff0"/>
<rect x="450" y="697" width="3" height="27" fill="#2a8ff0"/>
<rect x="454" y="707" width="3" height="17" fill="#2a8ff0"/>
<rect x="458" y="713" width="3" height="11" fill="#2a8ff0"/>
<rect x="462" y="718" width="3" height="6" fill="#2a8ff0"/>
<rect x="466" y="720" width="3" height="4" fill="#2a8ff0"/>
<rect x="470" y="722" width="3" height="2" fill="#2a8ff0"/>
<rect x="474" y="724" width="3" height="6" fill="#fba785"/>
<rect x="478" y="724" width="3" height="11" fill="#fba785"/>
<rect x="482" y="724" width="3" height="14" fill="#fba785"/>
<rect x="486" y="724" width="3" height="15" fill="#fba785"/>
<rect x="490" y="724" width="3" height="21" fill="#fba785"/>
<rect x="494" y="724" width="3" height="24" fill="#fba785"/>
<rect x="498" y="724" width="3" height="24" fill="#fba785"/>
<rect x="502" y="724" width="3" height="24" fill="#fba785"/>
<rect x="506" y="724" width="3" height="22" fill="#fba785"/>
<rect x="510" y="724" width="3" height="19" fill="#fba785"/>
<rect x="514" y="724" width="3" height="14" fill="#fba785"/>
<rect x="518" y="724" width="3" height="19" fill="#fba785"/>
<rect x="522" y="724" width="3" height="24" fill="#fba785"/>
<rect x="526" y="724" width="3" height="28" fill="#fba785"/>
<rect x="530" y="724" width="3" height="28" fill="#fba785"/>
<rect x="534" y="724" width="3" height="27" fill="#fba785"/>
<rect x="538" y="724" width="3" height="23" fill="#fba785"/>
<rect x="542" y="724" width="3" height="14" fill="#fba785"/>
<rect x="546" y="724" width="3" height="6" fill="#fba785"/>
<rect x="550" y="715" width="3" height="9" fill="#2a8ff0"/>
<rect x="554" y="710" width="3" height="14" fill="#2a8ff0"/>
<rect x="558" y="710" width="3" height="14" fill="#2a8ff0"/>
<rect x="562" y="705" width="3" height="19" fill="#2a8ff0"/>
<rect x="566" y="701" width="3" height="23" fill="#2a8ff0"/>
<rect x="570" y="695" width="3" height="29" fill="#2a8ff0"/>
<rect x="574" y="701" width="3" height="23" fill="#2a8ff0"/>
<rect x="578" y="705" width="3" height="19" fill="#2a8ff0"/>
<rect x="582" y="709" width="3" height="15" fill="#2a8ff0"/>
<rect x="586" y="715" width="3" height="9" fill="#2a8ff0"/>
<rect x="590" y="723" width="3" height="1" fill="#2a8ff0"/>
<rect x="594" y="724" width="3" height="5" fill="#fba785"/>
<rect x="598" y="724" width="3" height="10" fill="#fba785"/>
<rect x="602" y="724" width="3" height="11" fill="#fba785"/>
<rect x="606" y="724" width="3" height="15" fill="#fba785"/>
<rect x="610" y="724" width="3" height="11" fill="#fba785"/>
<rect x="614" y="724" width="3" height="9" fill="#fba785"/>
<rect x="618" y="724" width="3" height="11" fill="#fba785"/>
<rect x="622" y="724" width="3" height="12" fill="#fba785"/>
<rect x="626" y="724" width="3" height="14" fill="#fba785"/>
<rect x="630" y="724" width="3" height="15" fill="#fba785"/>
<rect x="634" y="724" width="3" height="6" fill="#fba785"/>
<rect x="638" y="719" width="3" height="5" fill="#2a8ff0"/>
<rect x="642" y="714" width="3" height="10" fill="#2a8ff0"/>
<rect x="646" y="713" width="3" height="11" fill="#2a8ff0"/>
<rect x="650" y="713" width="3" height="11" fill="#2a8ff0"/>
<rect x="654" y="722" width="3" height="2" fill="#2a8ff0"/>
<rect x="658" y="724" width="3" height="19" fill="#fba785"/>
<rect x="662" y="724" width="3" height="24" fill="#fba785"/>
<rect x="666" y="724" width="3" height="19" fill="#fba785"/>
<rect x="670" y="724" width="3" height="17" fill="#fba785"/>
<rect x="674" y="724" width="3" height="19" fill="#fba785"/>
<rect x="678" y="724" width="3" height="19" fill="#fba785"/>
<rect x="682" y="724" width="3" height="21" fill="#fba785"/>
<rect x="686" y="724" width="3" height="4" fill="#fba785"/>
<rect x="690" y="724" width="3" height="3" fill="#fba785"/>
<rect x="694" y="724" width="3" height="3" fill="#fba785"/>
<rect x="698" y="724" width="3" height="4" fill="#fba785"/>
<rect x="702" y="724" width="3" height="4" fill="#fba785"/>
<rect x="706" y="724" width="3" height="4" fill="#fba785"/>
<rect x="710" y="724" width="3" height="5" fill="#fba785"/>
<rect x="714" y="724" width="3" height="5" fill="#fba785"/>
<rect x="718" y="724" width="3" height="6" fill="#fba785"/>
<rect x="726" y="722" width="3" height="2" fill="#2a8ff0"/>
<rect x="730" y="713" width="3" height="11" fill="#2a8ff0"/>
<rect x="734" y="705" width="3" height="19" fill="#2a8ff0"/>
<rect x="738" y="695" width="3" height="29" fill="#2a8ff0"/>
<rect x="742" y="692" width="3" height="32" fill="#2a8ff0"/>
<rect x="746" y="688" width="3" height="36" fill="#2a8ff0"/>
<rect x="750" y="686" width="3" height="38" fill="#2a8ff0"/>
<rect x="754" y="683" width="3" height="41" fill="#2a8ff0"/>
<rect x="758" y="686" width="3" height="38" fill="#2a8ff0"/>
<rect x="762" y="696" width="3" height="28" fill="#2a8ff0"/>
<rect x="766" y="694" width="3" height="30" fill="#2a8ff0"/>
<rect x="770" y="696" width="3" height="28" fill="#2a8ff0"/>
<rect x="774" y="697" width="3" height="27" fill="#2a8ff0"/>
<rect x="778" y="701" width="3" height="23" fill="#2a8ff0"/>
<rect x="782" y="710" width="3" height="14" fill="#2a8ff0"/>
<rect x="786" y="719" width="3" height="5" fill="#2a8ff0"/>
<rect x="794" y="724" width="3" height="3" fill="#fba785"/>
<rect x="798" y="724" width="3" height="10" fill="#fba785"/>
<rect x="802" y="724" width="3" height="17" fill="#fba785"/>
<rect x="806" y="724" width="3" height="14" fill="#fba785"/>
<rect x="810" y="724" width="3" height="16" fill="#fba785"/>
<rect x="814" y="724" width="3" height="19" fill="#fba785"/>
<rect x="818" y="724" width="3" height="18" fill="#fba785"/>
<rect x="822" y="724" width="3" height="20" fill="#fba785"/>
<rect x="826" y="724" width="3" height="22" fill="#fba785"/>
<rect x="830" y="724" width="3" height="22" fill="#fba785"/>
<rect x="834" y="724" width="3" height="23" fill="#fba785"/>
<rect x="838" y="724" width="3" height="18" fill="#fba785"/>
<rect x="842" y="724" width="3" height="14" fill="#fba785"/>
<rect x="846" y="724" width="3" height="10" fill="#fba785"/>
<rect x="850" y="724" width="3" height="7" fill="#fba785"/>
<rect x="854" y="724" width="3" height="12" fill="#fba785"/>
<rect x="858" y="724" width="3" height="20" fill="#fba785"/>
<rect x="862" y="724" width="3" height="24" fill="#fba785"/>
<rect x="866" y="724" width="3" height="27" fill="#fba785"/>
<rect x="870" y="724" width="3" height="28" fill="#fba785"/>
<rect x="874" y="724" width="3" height="33" fill="#fba785"/>
<rect x="878" y="724" width="3" height="31" fill="#fba785"/>
<rect x="882" y="724" width="3" height="28" fill="#fba785"/>
<rect x="886" y="724" width="3" height="20" fill="#fba785"/>
<rect x="890" y="724" width="3" height="11" fill="#fba785"/>
<rect x="894" y="724" width="3" height="6" fill="#fba785"/>
<rect x="898" y="724" width="3" height="10" fill="#fba785"/>
<rect x="902" y="724" width="3" height="6" fill="#fba785"/>
<rect x="906" y="724" width="3" height="6" fill="#fba785"/>
<rect x="910" y="724" width="3" height="7" fill="#fba785"/>
<rect x="914" y="724" width="3" height="9" fill="#fba785"/>
<rect x="918" y="724" width="3" height="11" fill="#fba785"/>
<rect x="922" y="724" width="3" height="12" fill="#fba785"/>
<rect x="926" y="724" width="3" height="10" fill="#fba785"/>
<rect x="930" y="710" width="3" height="14" fill="#2a8ff0"/>
<rect x="934" y="695" width="3" height="29" fill="#2a8ff0"/>
<rect x="938" y="686" width="3" height="38" fill="#2a8ff0"/>
<rect x="942" y="682" width="3" height="42" fill="#2a8ff0"/>
<rect x="946" y="684" width="3" height="40" fill="#2a8ff0"/>
<rect x="950" y="691" width="3" height="33" fill="#2a8ff0"/>
<rect x="954" y="700" width="3" height="24" fill="#2a8ff0"/>
<rect x="958" y="709" width="3" height="15" fill="#2a8ff0"/>
<rect x="962" y="716" width="3" height="8" fill="#2a8ff0"/>
<rect x="966" y="721" width="3" height="3" fill="#2a8ff0"/>
<rect x="970" y="724" width="3" height="2" fill="#fba785"/>
<rect x="974" y="724" width="3" height="6" fill="#fba785"/>
<rect x="978" y="724" width="3" height="14" fill="#fba785"/>
<rect x="982" y="724" width="3" height="20" fill="#fba785"/>
<rect x="986" y="724" width="3" height="24" fill="#fba785"/>
<rect x="990" y="724" width="3" height="28" fill="#fba785"/>
<rect x="994" y="724" width="3" height="32" fill="#fba785"/>
<rect x="998" y="724" width="3" height="34" fill="#fba785"/>
<rect x="1002" y="724" width="3" height="35" fill="#fba785"/>
<rect x="1006" y="724" width="3" height="36" fill="#fba785"/>
<rect x="1010" y="724" width="3" height="34" fill="#fba785"/>
<rect x="1014" y="724" width="3" height="32" fill="#fba785"/>
<rect x="1018" y="724" width="3" height="29" fill="#fba785"/>
<rect x="1022" y="724" width="3" height="25" fill="#fba785"/>
<rect x="1026" y="724" width="3" height="21" fill="#fba785"/>
<rect x="1030" y="724" width="3" height="17" fill="#fba785"/>
<rect x="1034" y="724" width="3" height="14" fill="#fba785"/>
<rect x="1038" y="724" width="3" height="8" fill="#fba785"/>
</g>
<g clip-path="url(#cd)" fill="none" stroke-linejoin="round" stroke-linecap="round">
<polyline points="0,712.4 6.5,709.6 13,705.1 19.5,702.2 30,701.5 34.1,705.9 42.5,705.9 48.7,709.6 55.2,714.8 62.5,721.3 69.8,723 74.7,724.6 79.6,725.9 83.6,724.3 87.7,720.5 90.9,714 95.8,711.6 102.3,714.8 113.7,714.8 123.4,717.3 134.8,717.8 139.7,716.8 146.2,718.9 155.9,720.5 165.6,723.8 175.4,726.2 183.5,730.3 190,740.8 192.5,745.7 199,751.4 207.1,750.6 216.9,749.8 223.4,747 231.5,745.7 239.6,739.2 247.7,735.1 255.8,731.9 263.9,729.5 271.3,727.5 276.9,722.1 283.4,710.8 289.9,706.7 296.4,701.5 302.9,698.6 309.4,692.9 315.9,684.8 319.2,682 325.7,682.7 332.2,683.2 338.6,685.6 345.1,690.5 351.6,693.7 358.1,695.7 363.5,697 367.9,701 376,699.9 376.9,699.9 381.7,703.5 388.2,709.2 396.4,714.8 402.9,718.9 411,718.9 415.8,716.5 420.7,710 425.6,700.2 430.5,691.3 437,684.8 443.5,682 449.9,680.7 456.4,683.2 462.9,685.3 471.1,686.4 477.6,690.5 484.1,694.1 487.3,695 492.2,699.4 498.7,703.5 505.2,706.4 511.7,708 516.5,708 523,714 531.1,720.5 537.6,720.8 542.5,720.5 549,716.5 555.5,709.6 562,706.7 564.5,705.9 571,697 577.5,696.6 584,697 590.5,701.5 598.6,705.9 606.7,710 613.2,708.7 619.7,711.3 626.2,713.2 631.1,715.6 635.9,712.4 640.8,708.3 647.3,705.4 653.8,705.9 658.7,714 663.6,718.4 671.7,720.5 678.2,723 683.9,725.9 687.1,720.5 696,720.5 704.2,721.8 713.9,723 720.4,723.4 726.9,720.5 733.4,714.8 739.9,708.3 748,699.4 750.5,695.4 757,690.2 763.5,689.7 770,684.8 776.5,682.7 781.4,682.8 787.8,687.2 794.3,689.2 802.5,695.7 809,697.8 813.8,700.5 819.5,701 825.2,705.1 833.3,709.6 841.4,710 849.6,709.2 857.7,714 865.8,720.5 873.9,727 880.4,731.9 886.9,731.9 893.4,728.6 899.9,730.3 908,731.1 914,733 920.5,735.9 927,735.6 930.2,729.5 935.1,718.9 940,711.6 946.5,706.4 953,705.9 959.5,708.3 966,710.8 972.5,714 979,718.9 985.5,725.4 991.9,730.3 998.4,736.8 1004.9,739.2 1011.4,741.1 1017.9,742.8 1027.7,745.4 1034.2,746.5 1039.9,745.7" stroke="#0a0aa8" stroke-width="2.2"/>
<polyline points="0,727.8 8.1,722.1 16.2,715.6 24.4,710.8 32.5,707.5 42.2,706.4 48.7,707.5 56.8,710.8 65,714 73.1,717.3 81.2,720 87.7,720.5 94.2,718.4 100.7,716.5 113.7,715.6 126.7,715.6 139.7,716.1 149.4,717.3 159.1,718.4 168.9,720.5 178.6,723.8 186.8,727 190,729.5 192.5,731.9 199,737.6 207.1,742.4 216.9,745.4 226.6,746.5 233.1,745.7 241.2,743.3 251,740 260.7,736.8 270.4,733 278.6,728.6 286.7,722.1 296.4,714 306.2,706.7 315.9,697.8 324,692.1 332.2,688.5 340.3,687.6 348.4,689.7 356.5,692.1 364.6,694.1 376,697 378.5,697 388.2,703.5 398,709.2 407.7,713.2 414.2,714.5 420.7,712.4 428.8,706.7 437,699.4 445.1,692.9 453.2,688.9 461.3,687.2 469.4,686.4 475.9,687.2 485.7,689.7 495.4,694.5 505.2,699.4 514.9,703.5 524.6,708.3 534.4,713.2 542.5,715.6 549,715.6 555.5,714 562,712.4 566.1,710 574.2,705.9 582.4,701.5 590.5,701.5 600.2,704.3 610,706.7 619.7,708.3 629.5,711.3 639.2,710.8 647.3,709.2 655.4,708.3 663.6,711.6 671.7,714.8 681.4,718.6 687.9,719.4 697.7,719.4 707.4,720.5 717.1,721.8 725.3,722.1 733.4,719.7 741.5,715.6 748,711.6 752.1,706.7 760.2,700.5 768.4,695.4 776.5,691.3 784.6,688.5 792.7,687.7 800.8,689.7 809,692.9 818.7,696.2 828.4,700.5 838.2,704.3 847.9,706.4 857.7,709.6 867.4,715.2 877.2,720.5 886.9,724.9 896.6,726.2 906.4,727.8 914,729.5 922.1,732.4 928.6,732.4 935.1,727.8 941.6,722.1 948.1,717.3 954.6,714 961.1,711.6 967.6,710.8 975.7,712.4 982.2,714.8 988.7,718.9 995.2,723.8 1001.7,727.8 1008.2,731.4 1014.7,734.6 1021.2,737.6 1027.7,740 1034.2,742 1039.9,742.9" stroke="#ff9a0a" stroke-width="2.2"/>
</g>
<ellipse cx="1033.7" cy="729.5" rx="43" ry="38" fill="none" stroke="#ee4f5c" stroke-width="2.1"/>
<rect x="1168" y="0" width="1" height="804" fill="#f4f4f4"/><rect x="1169" y="0" width="1" height="804" fill="#e7e7e7"/>
<g shape-rendering="crispEdges" fill="#000">
<rect x="1104" y="0" width="1" height="535"/>
<rect x="0" y="534" width="1105" height="1"/>
<rect x="0" y="537" width="1105" height="1"/>
<rect x="1104" y="537" width="1" height="119"/>
<rect x="0" y="655" width="1105" height="1"/>
<rect x="0" y="658" width="1105" height="1"/>
<rect x="1104" y="658" width="1" height="130"/>
<rect x="0" y="787" width="1105" height="1"/>
<rect x="1105" y="24" width="3" height="1"/>
<rect x="1105" y="74" width="3" height="1"/>
<rect x="1105" y="122" width="3" height="1"/>
<rect x="1105" y="172" width="3" height="1"/>
<rect x="1105" y="221" width="3" height="1"/>
<rect x="1105" y="270" width="3" height="1"/>
<rect x="1105" y="319" width="3" height="1"/>
<rect x="1105" y="368" width="3" height="1"/>
<rect x="1105" y="417" width="3" height="1"/>
<rect x="1105" y="466" width="3" height="1"/>
<rect x="1105" y="515" width="3" height="1"/>
<rect x="1105" y="723" width="3" height="1"/>
<rect x="23" y="788" width="1" height="3"/>
<rect x="119" y="788" width="1" height="3"/>
<rect x="215" y="788" width="1" height="3"/>
<rect x="311" y="788" width="1" height="3"/>
<rect x="407" y="788" width="1" height="3"/>
<rect x="503" y="788" width="1" height="3"/>
<rect x="599" y="788" width="1" height="3"/>
<rect x="695" y="788" width="1" height="3"/>
<rect x="791" y="788" width="1" height="3"/>
<rect x="887" y="788" width="1" height="3"/>
<rect x="983" y="788" width="1" height="3"/>
</g>
<text x="1111.5" y="30.4" fill="#000">1.35520</text>
<text x="1111.5" y="79.4" fill="#000">1.34960</text>
<text x="1111.5" y="128.4" fill="#000">1.34410</text>
<text x="1111.5" y="177.4" fill="#000">1.33850</text>
<text x="1111.5" y="226.9" fill="#000">1.33300</text>
<text x="1111.5" y="275.9" fill="#000">1.32740</text>
<text x="1111.5" y="324.9" fill="#000">1.32190</text>
<text x="1111.5" y="373.9" fill="#000">1.31630</text>
<text x="1111.5" y="422.9" fill="#000">1.31080</text>
<text x="1111.5" y="471.9" fill="#000">1.30520</text>
<text x="1111.5" y="520.9" fill="#000">1.29970</text>
<text x="1108.5" y="550.4" fill="#000">100</text>
<text x="1108.5" y="601.0" fill="#000">50</text>
<text x="1108.5" y="652.4" fill="#000">0</text>
<text x="1108.5" y="671.4" fill="#000">0.0050574</text>
<text x="1108.5" y="728.9" fill="#000">0.00</text>
<text x="1108.5" y="784.4" fill="#000">-0.0048749</text>
<text x="22.7" y="803.6" fill="#000" style="letter-spacing:0.22px">10 Nov 20:00</text>
<text x="118.7" y="803.6" fill="#000" style="letter-spacing:0.22px">14 Nov 20:00</text>
<text x="214.7" y="803.6" fill="#000" style="letter-spacing:0.22px">20 Nov 20:00</text>
<text x="310.7" y="803.6" fill="#000" style="letter-spacing:0.22px">26 Nov 20:00</text>
<text x="406.7" y="803.6" fill="#000" style="letter-spacing:0.22px">2 Dec 20:00</text>
<text x="502.7" y="803.6" fill="#000" style="letter-spacing:0.22px">8 Dec 20:00</text>
<text x="598.7" y="803.6" fill="#000" style="letter-spacing:0.22px">12 Dec 20:00</text>
<text x="694.7" y="803.6" fill="#000" style="letter-spacing:0.22px">18 Dec 20:00</text>
<text x="790.7" y="803.6" fill="#000" style="letter-spacing:0.22px">24 Dec 20:00</text>
<text x="886.7" y="803.6" fill="#000" style="letter-spacing:0.22px">31 Dec 20:00</text>
<text x="982.7" y="803.6" fill="#000" style="letter-spacing:0.22px">7 Jan 20:00</text>
<rect x="1106" y="76" width="56" height="14" fill="#ff0000" shape-rendering="crispEdges"/>
<text x="1111.5" y="88.2" fill="#fff">1.34871</text>
<rect x="1106" y="90" width="56" height="14" fill="#ff0000" shape-rendering="crispEdges"/>
<text x="1111.5" y="102.2" fill="#fff">1.34713</text>
<rect x="1106" y="133" width="56" height="14" fill="#000000" shape-rendering="crispEdges"/>
<text x="1111.5" y="145.2" fill="#fff">1.34221</text>
<rect x="1106" y="174" width="56" height="14" fill="#ff0000" shape-rendering="crispEdges"/>
<text x="1111.5" y="186.2" fill="#fff">1.33766</text>
<rect x="1106" y="189" width="56" height="14" fill="#ff0000" shape-rendering="crispEdges"/>
<text x="1111.5" y="201.2" fill="#fff">1.33596</text>
<rect x="1106" y="549" width="56" height="14" fill="#ff0000" shape-rendering="crispEdges"/>
<text x="1111.5" y="561.2" fill="#fff">85.0000</text>
<rect x="1106" y="567" width="56" height="14" fill="#ff0000" shape-rendering="crispEdges"/>
<text x="1111.5" y="579.2" fill="#fff">70.0000</text>
<rect x="1106" y="613" width="56" height="14" fill="#0000ff" shape-rendering="crispEdges"/>
<text x="1111.5" y="625.2" fill="#fff">30.0000</text>
<rect x="1106" y="631" width="56" height="14" fill="#0000ff" shape-rendering="crispEdges"/>
<text x="1111.5" y="643.2" fill="#fff">15.0000</text>
<defs><filter id="wb" x="-20%" y="-20%" width="140%" height="140%"><feGaussianBlur stdDeviation="0.9"/></filter></defs>
<g>
<rect x="1008.5" y="745" width="27.5" height="29" rx="8" ry="8" fill="#ffffff" filter="url(#wb)"/>
<rect x="1009.5" y="746" width="25.5" height="27" rx="7" ry="7" fill="#ffffff"/>
<path d="M1027.8 749.3 C1024 748 1021.6 749.8 1020.9 754 L1018.3 769.6 M1014.6 758.4 H1027.4 M1032.6 746.8 C1036.6 752 1036.4 761.5 1032.4 767.2 C1030 770.6 1027 772.8 1023.6 774" fill="none" stroke="#111" stroke-width="1.7" stroke-linecap="round"/>
<text x="1044.4" y="770.2" style="font-size:30.4px;letter-spacing:0" textLength="114" lengthAdjust="spacingAndGlyphs" fill="#3a3a3a" fill-opacity="0.75">@TMGM</text>
<text x="1043.4" y="769.2" style="font-size:30.4px;letter-spacing:0" textLength="114" lengthAdjust="spacingAndGlyphs" fill="#ffffff">@TMGM</text>
</g>
</svg></body></html>
